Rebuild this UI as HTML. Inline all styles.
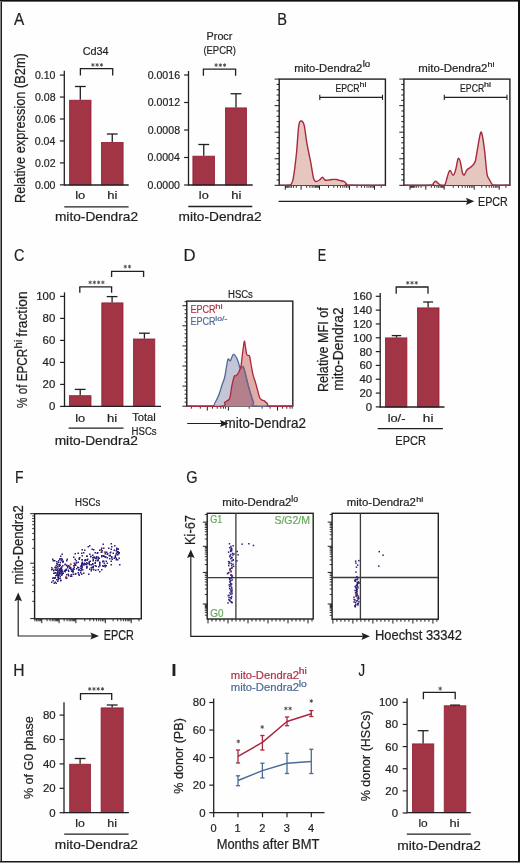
<!DOCTYPE html>
<html><head><meta charset="utf-8"><title>Figure</title>
<style>html,body{margin:0;padding:0;background:#fff;width:520px;height:863px;overflow:hidden}svg{display:block;will-change:transform}text{font-family:"Liberation Sans", sans-serif;stroke:currentColor;stroke-width:0.22px}</style>
</head><body>
<svg width="520" height="863" viewBox="0 0 520 863" font-family='"Liberation Sans", sans-serif'>
<rect width="520" height="863" fill="#fefefe"/>
<text transform="translate(13.96,24.6) scale(0.907,1)" font-size="16.9" fill="#231f20" color="#231f20">A</text>
<text transform="translate(277.19,24.5) scale(0.867,1)" font-size="16.9" fill="#231f20" color="#231f20">B</text>
<text transform="translate(13.98,260.7) scale(0.857,1)" font-size="16.9" fill="#231f20" color="#231f20">C</text>
<text transform="translate(183.52,260.6) scale(0.989,1)" font-size="16.9" fill="#231f20" color="#231f20">D</text>
<text transform="translate(317.85,260.7) scale(0.753,1)" font-size="16.9" fill="#231f20" color="#231f20">E</text>
<text transform="translate(14.95,482.6) scale(0.825,1)" font-size="16.9" fill="#231f20" color="#231f20">F</text>
<text transform="translate(186.17,482.6) scale(0.862,1)" font-size="16.9" fill="#231f20" color="#231f20">G</text>
<text transform="translate(13.21,675.8) scale(0.923,1)" font-size="16.9" fill="#231f20" color="#231f20">H</text>
<text transform="translate(170.6,675.8) scale(1.471,1)" font-size="16.9" fill="#231f20" color="#231f20">I</text>
<text transform="translate(358.5,675.8) scale(0.779,1)" font-size="16.9" fill="#231f20" color="#231f20">J</text>
<text transform="translate(34.88,79.02) scale(0.930,1)" font-size="11.4" fill="#231f20" color="#231f20">0.10</text>
<text transform="translate(34.93,100.97) scale(0.930,1)" font-size="11.4" fill="#231f20" color="#231f20">0.08</text>
<text transform="translate(34.93,122.92) scale(0.930,1)" font-size="11.4" fill="#231f20" color="#231f20">0.06</text>
<text transform="translate(34.77,144.87) scale(0.930,1)" font-size="11.4" fill="#231f20" color="#231f20">0.04</text>
<text transform="translate(35.01,166.82) scale(0.930,1)" font-size="11.4" fill="#231f20" color="#231f20">0.02</text>
<text transform="translate(34.88,188.77) scale(0.930,1)" font-size="11.4" fill="#231f20" color="#231f20">0.00</text>
<rect x="69.6" y="100.2" width="21.4" height="84.65" fill="#a23545" stroke="#921d31" stroke-width="0.8"/>
<rect x="101.4" y="142.4" width="21.7" height="42.45" fill="#a23545" stroke="#921d31" stroke-width="0.8"/>
<line x1="80.3" y1="86.5" x2="80.3" y2="99.8" stroke="#231f20" stroke-width="1.3"/>
<line x1="74.9" y1="86.5" x2="85.7" y2="86.5" stroke="#231f20" stroke-width="1.3"/>
<line x1="112.25" y1="134" x2="112.25" y2="142" stroke="#231f20" stroke-width="1.3"/>
<line x1="106.85" y1="134" x2="117.65" y2="134" stroke="#231f20" stroke-width="1.3"/>
<path d="M80.4,75.6 V68.65 H112.7 V75.6" fill="none" stroke="#231f20" stroke-width="1.3"/>
<path d="M92.9,63.1 L92.9,66.7 M91.34,64 L94.46,65.8 M91.34,65.8 L94.46,64 " stroke="#4a4a4a" stroke-width="0.9" fill="none"/>
<path d="M97.15,63.1 L97.15,66.7 M95.59,64 L98.71,65.8 M95.59,65.8 L98.71,64 " stroke="#4a4a4a" stroke-width="0.9" fill="none"/>
<path d="M101.4,63.1 L101.4,66.7 M99.84,64 L102.96,65.8 M99.84,65.8 L102.96,64 " stroke="#4a4a4a" stroke-width="0.9" fill="none"/>
<text transform="translate(82.66,55.1) scale(0.936,1)" font-size="11.6" fill="#231f20" color="#231f20">Cd34</text>
<text transform="translate(75.22,199.3) scale(1.119,1)" font-size="11.6" fill="#231f20" color="#231f20">lo</text>
<text transform="translate(107.18,199.3) scale(1.131,1)" font-size="11.6" fill="#231f20" color="#231f20">hi</text>
<line x1="64.3" y1="206.8" x2="128.6" y2="206.8" stroke="#231f20" stroke-width="1.35"/>
<text transform="translate(54.92,221.1) scale(1.009,1)" font-size="13.6" fill="#231f20" color="#231f20">mito-Dendra2</text>
<text transform="translate(24.5,203.05) rotate(-90) scale(0.920,1)" font-size="13.9" fill="#231f20" color="#231f20">Relative expression (B2m)</text>
<text transform="translate(147.63,78.92) scale(0.930,1)" font-size="11.4" fill="#231f20" color="#231f20">0.0016</text>
<text transform="translate(147.71,106.42) scale(0.930,1)" font-size="11.4" fill="#231f20" color="#231f20">0.0012</text>
<text transform="translate(147.63,133.92) scale(0.930,1)" font-size="11.4" fill="#231f20" color="#231f20">0.0008</text>
<text transform="translate(147.48,161.42) scale(0.930,1)" font-size="11.4" fill="#231f20" color="#231f20">0.0004</text>
<text transform="translate(147.58,188.92) scale(0.930,1)" font-size="11.4" fill="#231f20" color="#231f20">0.0000</text>
<rect x="192.9" y="156.15" width="21.7" height="28.85" fill="#a23545" stroke="#921d31" stroke-width="0.8"/>
<rect x="225.4" y="107.9" width="21.2" height="77.1" fill="#a23545" stroke="#921d31" stroke-width="0.8"/>
<line x1="203.75" y1="144.5" x2="203.75" y2="155.75" stroke="#231f20" stroke-width="1.3"/>
<line x1="198.35" y1="144.5" x2="209.15" y2="144.5" stroke="#231f20" stroke-width="1.3"/>
<line x1="236" y1="93.75" x2="236" y2="107.5" stroke="#231f20" stroke-width="1.3"/>
<line x1="230.6" y1="93.75" x2="241.4" y2="93.75" stroke="#231f20" stroke-width="1.3"/>
<path d="M203.4,75.8 V69.2 H235.6 V75.8" fill="none" stroke="#231f20" stroke-width="1.3"/>
<path d="M216.1,63.3 L216.1,66.9 M214.54,64.2 L217.66,66 M214.54,66 L217.66,64.2 " stroke="#4a4a4a" stroke-width="0.9" fill="none"/>
<path d="M220.35,63.3 L220.35,66.9 M218.79,64.2 L221.91,66 M218.79,66 L221.91,64.2 " stroke="#4a4a4a" stroke-width="0.9" fill="none"/>
<path d="M224.6,63.3 L224.6,66.9 M223.04,64.2 L226.16,66 M223.04,66 L226.16,64.2 " stroke="#4a4a4a" stroke-width="0.9" fill="none"/>
<text transform="translate(206.61,40.3) scale(0.981,1)" font-size="11" fill="#231f20" color="#231f20">Procr</text>
<text transform="translate(203.41,53.8) scale(0.859,1)" font-size="11" fill="#231f20" color="#231f20">(EPCR)</text>
<text transform="translate(198.84,199.4) scale(1.094,1)" font-size="11.6" fill="#231f20" color="#231f20">lo</text>
<text transform="translate(231.19,199.4) scale(1.118,1)" font-size="11.6" fill="#231f20" color="#231f20">hi</text>
<line x1="188.3" y1="206.5" x2="252.3" y2="206.5" stroke="#231f20" stroke-width="1.35"/>
<text transform="translate(178.47,221.1) scale(1.010,1)" font-size="13.6" fill="#231f20" color="#231f20">mito-Dendra2</text>
<line x1="274.6" y1="79.1" x2="279.2" y2="79.1" stroke="#231f20" stroke-width="1"/>
<line x1="276.6" y1="84.41" x2="279.2" y2="84.41" stroke="#231f20" stroke-width="1"/>
<line x1="276.6" y1="89.72" x2="279.2" y2="89.72" stroke="#231f20" stroke-width="1"/>
<line x1="276.6" y1="95.03" x2="279.2" y2="95.03" stroke="#231f20" stroke-width="1"/>
<line x1="276.6" y1="100.34" x2="279.2" y2="100.34" stroke="#231f20" stroke-width="1"/>
<line x1="274.6" y1="105.65" x2="279.2" y2="105.65" stroke="#231f20" stroke-width="1"/>
<line x1="276.6" y1="110.96" x2="279.2" y2="110.96" stroke="#231f20" stroke-width="1"/>
<line x1="276.6" y1="116.27" x2="279.2" y2="116.27" stroke="#231f20" stroke-width="1"/>
<line x1="276.6" y1="121.58" x2="279.2" y2="121.58" stroke="#231f20" stroke-width="1"/>
<line x1="276.6" y1="126.89" x2="279.2" y2="126.89" stroke="#231f20" stroke-width="1"/>
<line x1="274.6" y1="132.2" x2="279.2" y2="132.2" stroke="#231f20" stroke-width="1"/>
<line x1="276.6" y1="137.51" x2="279.2" y2="137.51" stroke="#231f20" stroke-width="1"/>
<line x1="276.6" y1="142.82" x2="279.2" y2="142.82" stroke="#231f20" stroke-width="1"/>
<line x1="276.6" y1="148.13" x2="279.2" y2="148.13" stroke="#231f20" stroke-width="1"/>
<line x1="276.6" y1="153.44" x2="279.2" y2="153.44" stroke="#231f20" stroke-width="1"/>
<line x1="274.6" y1="158.75" x2="279.2" y2="158.75" stroke="#231f20" stroke-width="1"/>
<line x1="276.6" y1="164.06" x2="279.2" y2="164.06" stroke="#231f20" stroke-width="1"/>
<line x1="276.6" y1="169.37" x2="279.2" y2="169.37" stroke="#231f20" stroke-width="1"/>
<line x1="276.6" y1="174.68" x2="279.2" y2="174.68" stroke="#231f20" stroke-width="1"/>
<line x1="276.6" y1="179.99" x2="279.2" y2="179.99" stroke="#231f20" stroke-width="1"/>
<line x1="274.6" y1="185.3" x2="279.2" y2="185.3" stroke="#231f20" stroke-width="1"/>
<line x1="285.3" y1="185.3" x2="285.3" y2="189.7" stroke="#231f20" stroke-width="1"/>
<line x1="301.1" y1="185.3" x2="301.1" y2="189.7" stroke="#231f20" stroke-width="1"/>
<line x1="319.5" y1="185.3" x2="319.5" y2="189.7" stroke="#231f20" stroke-width="1"/>
<line x1="349.5" y1="185.3" x2="349.5" y2="189.7" stroke="#231f20" stroke-width="1"/>
<line x1="374.5" y1="185.3" x2="374.5" y2="189.7" stroke="#231f20" stroke-width="1"/>
<line x1="296.34" y1="185.3" x2="296.34" y2="187.8" stroke="#231f20" stroke-width="0.9"/>
<line x1="293.56" y1="185.3" x2="293.56" y2="187.8" stroke="#231f20" stroke-width="0.9"/>
<line x1="291.59" y1="185.3" x2="291.59" y2="187.8" stroke="#231f20" stroke-width="0.9"/>
<line x1="290.06" y1="185.3" x2="290.06" y2="187.8" stroke="#231f20" stroke-width="0.9"/>
<line x1="288.81" y1="185.3" x2="288.81" y2="187.8" stroke="#231f20" stroke-width="0.9"/>
<line x1="287.75" y1="185.3" x2="287.75" y2="187.8" stroke="#231f20" stroke-width="0.9"/>
<line x1="286.83" y1="185.3" x2="286.83" y2="187.8" stroke="#231f20" stroke-width="0.9"/>
<line x1="286.02" y1="185.3" x2="286.02" y2="187.8" stroke="#231f20" stroke-width="0.9"/>
<line x1="306.64" y1="185.3" x2="306.64" y2="187.8" stroke="#231f20" stroke-width="0.9"/>
<line x1="309.88" y1="185.3" x2="309.88" y2="187.8" stroke="#231f20" stroke-width="0.9"/>
<line x1="312.18" y1="185.3" x2="312.18" y2="187.8" stroke="#231f20" stroke-width="0.9"/>
<line x1="313.96" y1="185.3" x2="313.96" y2="187.8" stroke="#231f20" stroke-width="0.9"/>
<line x1="315.42" y1="185.3" x2="315.42" y2="187.8" stroke="#231f20" stroke-width="0.9"/>
<line x1="316.65" y1="185.3" x2="316.65" y2="187.8" stroke="#231f20" stroke-width="0.9"/>
<line x1="317.72" y1="185.3" x2="317.72" y2="187.8" stroke="#231f20" stroke-width="0.9"/>
<line x1="318.66" y1="185.3" x2="318.66" y2="187.8" stroke="#231f20" stroke-width="0.9"/>
<line x1="328.53" y1="185.3" x2="328.53" y2="187.8" stroke="#231f20" stroke-width="0.9"/>
<line x1="333.81" y1="185.3" x2="333.81" y2="187.8" stroke="#231f20" stroke-width="0.9"/>
<line x1="337.56" y1="185.3" x2="337.56" y2="187.8" stroke="#231f20" stroke-width="0.9"/>
<line x1="340.47" y1="185.3" x2="340.47" y2="187.8" stroke="#231f20" stroke-width="0.9"/>
<line x1="342.84" y1="185.3" x2="342.84" y2="187.8" stroke="#231f20" stroke-width="0.9"/>
<line x1="344.85" y1="185.3" x2="344.85" y2="187.8" stroke="#231f20" stroke-width="0.9"/>
<line x1="346.59" y1="185.3" x2="346.59" y2="187.8" stroke="#231f20" stroke-width="0.9"/>
<line x1="348.13" y1="185.3" x2="348.13" y2="187.8" stroke="#231f20" stroke-width="0.9"/>
<line x1="357.03" y1="185.3" x2="357.03" y2="187.8" stroke="#231f20" stroke-width="0.9"/>
<line x1="361.43" y1="185.3" x2="361.43" y2="187.8" stroke="#231f20" stroke-width="0.9"/>
<line x1="364.55" y1="185.3" x2="364.55" y2="187.8" stroke="#231f20" stroke-width="0.9"/>
<line x1="366.97" y1="185.3" x2="366.97" y2="187.8" stroke="#231f20" stroke-width="0.9"/>
<line x1="368.95" y1="185.3" x2="368.95" y2="187.8" stroke="#231f20" stroke-width="0.9"/>
<line x1="370.63" y1="185.3" x2="370.63" y2="187.8" stroke="#231f20" stroke-width="0.9"/>
<line x1="372.08" y1="185.3" x2="372.08" y2="187.8" stroke="#231f20" stroke-width="0.9"/>
<line x1="373.36" y1="185.3" x2="373.36" y2="187.8" stroke="#231f20" stroke-width="0.9"/>
<line x1="381.2" y1="185.3" x2="381.2" y2="187.8" stroke="#231f20" stroke-width="0.9"/>
<rect x="279.2" y="79.1" width="106.2" height="106.2" fill="none" stroke="#231f20" stroke-width="1.4"/>
<path d="M279.2,185.3 C280.92,185.3 287.45,185.6 289.5,185.3 C291.55,185 290.85,184.77 291.5,183.5 C292.15,182.23 292.57,182.78 293.4,177.7 C294.23,172.62 295.6,161.72 296.5,153 C297.4,144.28 297.98,130.73 298.8,125.4 C299.62,120.07 300.5,121 301.4,121 C302.3,121 303.35,122.1 304.2,125.4 C305.05,128.7 305.73,136.2 306.5,140.8 C307.27,145.4 308.05,149.17 308.8,153 C309.55,156.83 310.23,159.68 311,163.8 C311.77,167.92 312.62,174.75 313.4,177.7 C314.18,180.65 314.68,181.12 315.7,181.5 C316.72,181.88 318.35,180.72 319.5,180 C320.65,179.28 321.7,177.2 322.6,177.2 C323.5,177.2 323.87,179.53 324.9,180 C325.93,180.47 327.65,180.08 328.8,180 C329.95,179.92 330.52,179.58 331.8,179.5 C333.08,179.42 334.97,179.28 336.5,179.5 C338.03,179.72 339.72,180.47 341,180.8 C342.28,181.13 343.28,181 344.2,181.5 C345.12,182 345.73,183.17 346.5,183.8 C347.27,184.43 342.32,185.05 348.8,185.3 C355.28,185.55 379.3,185.3 385.4,185.3 Z" fill="#e5c7bf" stroke="none"/>
<path d="M279.2,185.3 C280.92,185.3 287.45,185.6 289.5,185.3 C291.55,185 290.85,184.77 291.5,183.5 C292.15,182.23 292.57,182.78 293.4,177.7 C294.23,172.62 295.6,161.72 296.5,153 C297.4,144.28 297.98,130.73 298.8,125.4 C299.62,120.07 300.5,121 301.4,121 C302.3,121 303.35,122.1 304.2,125.4 C305.05,128.7 305.73,136.2 306.5,140.8 C307.27,145.4 308.05,149.17 308.8,153 C309.55,156.83 310.23,159.68 311,163.8 C311.77,167.92 312.62,174.75 313.4,177.7 C314.18,180.65 314.68,181.12 315.7,181.5 C316.72,181.88 318.35,180.72 319.5,180 C320.65,179.28 321.7,177.2 322.6,177.2 C323.5,177.2 323.87,179.53 324.9,180 C325.93,180.47 327.65,180.08 328.8,180 C329.95,179.92 330.52,179.58 331.8,179.5 C333.08,179.42 334.97,179.28 336.5,179.5 C338.03,179.72 339.72,180.47 341,180.8 C342.28,181.13 343.28,181 344.2,181.5 C345.12,182 345.73,183.17 346.5,183.8 C347.27,184.43 342.32,185.05 348.8,185.3 C355.28,185.55 379.3,185.3 385.4,185.3" fill="none" stroke="#a8283e" stroke-width="1.4" stroke-linejoin="round"/>
<line x1="399.3" y1="79.1" x2="403.9" y2="79.1" stroke="#231f20" stroke-width="1"/>
<line x1="401.3" y1="84.41" x2="403.9" y2="84.41" stroke="#231f20" stroke-width="1"/>
<line x1="401.3" y1="89.72" x2="403.9" y2="89.72" stroke="#231f20" stroke-width="1"/>
<line x1="401.3" y1="95.03" x2="403.9" y2="95.03" stroke="#231f20" stroke-width="1"/>
<line x1="401.3" y1="100.34" x2="403.9" y2="100.34" stroke="#231f20" stroke-width="1"/>
<line x1="399.3" y1="105.65" x2="403.9" y2="105.65" stroke="#231f20" stroke-width="1"/>
<line x1="401.3" y1="110.96" x2="403.9" y2="110.96" stroke="#231f20" stroke-width="1"/>
<line x1="401.3" y1="116.27" x2="403.9" y2="116.27" stroke="#231f20" stroke-width="1"/>
<line x1="401.3" y1="121.58" x2="403.9" y2="121.58" stroke="#231f20" stroke-width="1"/>
<line x1="401.3" y1="126.89" x2="403.9" y2="126.89" stroke="#231f20" stroke-width="1"/>
<line x1="399.3" y1="132.2" x2="403.9" y2="132.2" stroke="#231f20" stroke-width="1"/>
<line x1="401.3" y1="137.51" x2="403.9" y2="137.51" stroke="#231f20" stroke-width="1"/>
<line x1="401.3" y1="142.82" x2="403.9" y2="142.82" stroke="#231f20" stroke-width="1"/>
<line x1="401.3" y1="148.13" x2="403.9" y2="148.13" stroke="#231f20" stroke-width="1"/>
<line x1="401.3" y1="153.44" x2="403.9" y2="153.44" stroke="#231f20" stroke-width="1"/>
<line x1="399.3" y1="158.75" x2="403.9" y2="158.75" stroke="#231f20" stroke-width="1"/>
<line x1="401.3" y1="164.06" x2="403.9" y2="164.06" stroke="#231f20" stroke-width="1"/>
<line x1="401.3" y1="169.37" x2="403.9" y2="169.37" stroke="#231f20" stroke-width="1"/>
<line x1="401.3" y1="174.68" x2="403.9" y2="174.68" stroke="#231f20" stroke-width="1"/>
<line x1="401.3" y1="179.99" x2="403.9" y2="179.99" stroke="#231f20" stroke-width="1"/>
<line x1="399.3" y1="185.3" x2="403.9" y2="185.3" stroke="#231f20" stroke-width="1"/>
<line x1="410" y1="185.3" x2="410" y2="189.7" stroke="#231f20" stroke-width="1"/>
<line x1="425.8" y1="185.3" x2="425.8" y2="189.7" stroke="#231f20" stroke-width="1"/>
<line x1="444.2" y1="185.3" x2="444.2" y2="189.7" stroke="#231f20" stroke-width="1"/>
<line x1="474.2" y1="185.3" x2="474.2" y2="189.7" stroke="#231f20" stroke-width="1"/>
<line x1="499.2" y1="185.3" x2="499.2" y2="189.7" stroke="#231f20" stroke-width="1"/>
<line x1="421.04" y1="185.3" x2="421.04" y2="187.8" stroke="#231f20" stroke-width="0.9"/>
<line x1="418.26" y1="185.3" x2="418.26" y2="187.8" stroke="#231f20" stroke-width="0.9"/>
<line x1="416.29" y1="185.3" x2="416.29" y2="187.8" stroke="#231f20" stroke-width="0.9"/>
<line x1="414.76" y1="185.3" x2="414.76" y2="187.8" stroke="#231f20" stroke-width="0.9"/>
<line x1="413.51" y1="185.3" x2="413.51" y2="187.8" stroke="#231f20" stroke-width="0.9"/>
<line x1="412.45" y1="185.3" x2="412.45" y2="187.8" stroke="#231f20" stroke-width="0.9"/>
<line x1="411.53" y1="185.3" x2="411.53" y2="187.8" stroke="#231f20" stroke-width="0.9"/>
<line x1="410.72" y1="185.3" x2="410.72" y2="187.8" stroke="#231f20" stroke-width="0.9"/>
<line x1="431.34" y1="185.3" x2="431.34" y2="187.8" stroke="#231f20" stroke-width="0.9"/>
<line x1="434.58" y1="185.3" x2="434.58" y2="187.8" stroke="#231f20" stroke-width="0.9"/>
<line x1="436.88" y1="185.3" x2="436.88" y2="187.8" stroke="#231f20" stroke-width="0.9"/>
<line x1="438.66" y1="185.3" x2="438.66" y2="187.8" stroke="#231f20" stroke-width="0.9"/>
<line x1="440.12" y1="185.3" x2="440.12" y2="187.8" stroke="#231f20" stroke-width="0.9"/>
<line x1="441.35" y1="185.3" x2="441.35" y2="187.8" stroke="#231f20" stroke-width="0.9"/>
<line x1="442.42" y1="185.3" x2="442.42" y2="187.8" stroke="#231f20" stroke-width="0.9"/>
<line x1="443.36" y1="185.3" x2="443.36" y2="187.8" stroke="#231f20" stroke-width="0.9"/>
<line x1="453.23" y1="185.3" x2="453.23" y2="187.8" stroke="#231f20" stroke-width="0.9"/>
<line x1="458.51" y1="185.3" x2="458.51" y2="187.8" stroke="#231f20" stroke-width="0.9"/>
<line x1="462.26" y1="185.3" x2="462.26" y2="187.8" stroke="#231f20" stroke-width="0.9"/>
<line x1="465.17" y1="185.3" x2="465.17" y2="187.8" stroke="#231f20" stroke-width="0.9"/>
<line x1="467.54" y1="185.3" x2="467.54" y2="187.8" stroke="#231f20" stroke-width="0.9"/>
<line x1="469.55" y1="185.3" x2="469.55" y2="187.8" stroke="#231f20" stroke-width="0.9"/>
<line x1="471.29" y1="185.3" x2="471.29" y2="187.8" stroke="#231f20" stroke-width="0.9"/>
<line x1="472.83" y1="185.3" x2="472.83" y2="187.8" stroke="#231f20" stroke-width="0.9"/>
<line x1="481.73" y1="185.3" x2="481.73" y2="187.8" stroke="#231f20" stroke-width="0.9"/>
<line x1="486.13" y1="185.3" x2="486.13" y2="187.8" stroke="#231f20" stroke-width="0.9"/>
<line x1="489.25" y1="185.3" x2="489.25" y2="187.8" stroke="#231f20" stroke-width="0.9"/>
<line x1="491.67" y1="185.3" x2="491.67" y2="187.8" stroke="#231f20" stroke-width="0.9"/>
<line x1="493.65" y1="185.3" x2="493.65" y2="187.8" stroke="#231f20" stroke-width="0.9"/>
<line x1="495.33" y1="185.3" x2="495.33" y2="187.8" stroke="#231f20" stroke-width="0.9"/>
<line x1="496.78" y1="185.3" x2="496.78" y2="187.8" stroke="#231f20" stroke-width="0.9"/>
<line x1="498.06" y1="185.3" x2="498.06" y2="187.8" stroke="#231f20" stroke-width="0.9"/>
<line x1="505.9" y1="185.3" x2="505.9" y2="187.8" stroke="#231f20" stroke-width="0.9"/>
<rect x="403.9" y="79.1" width="106" height="106.2" fill="none" stroke="#231f20" stroke-width="1.4"/>
<path d="M403.9,185.3 C408.38,185.3 425.9,185.65 430.8,185.3 C435.7,184.95 432.47,183.88 433.3,183.2 C434.13,182.52 434.97,181.15 435.8,181.2 C436.63,181.25 437.47,182.82 438.3,183.5 C439.13,184.18 439.75,185 440.8,185.3 C441.85,185.6 443.58,186.43 444.6,185.3 C445.62,184.17 446.25,180.55 446.9,178.5 C447.55,176.45 447.93,174.33 448.5,173 C449.07,171.67 449.55,170.1 450.3,170.5 C451.05,170.9 452.15,175.35 453,175.4 C453.85,175.45 454.62,173.37 455.4,170.8 C456.18,168.23 457.12,162.05 457.7,160 C458.28,157.95 458.43,158.12 458.9,158.5 C459.37,158.88 459.93,160 460.5,162.3 C461.07,164.6 461.68,170.18 462.3,172.3 C462.92,174.42 463.43,175.38 464.2,175 C464.97,174.62 465.93,171.22 466.9,170 C467.87,168.78 468.98,168.53 470,167.7 C471.02,166.87 472.1,166.15 473,165 C473.9,163.85 474.62,163.68 475.4,160.8 C476.18,157.92 476.85,152.33 477.7,147.7 C478.55,143.07 479.73,135.05 480.5,133 C481.27,130.95 481.62,132.43 482.3,135.4 C482.98,138.37 483.82,144.4 484.6,150.8 C485.38,157.2 486.23,169.07 487,173.8 C487.77,178.53 488.32,177.4 489.2,179.2 C490.08,181 491.53,183.58 492.3,184.6 C493.07,185.62 490.87,185.18 493.8,185.3 C496.73,185.42 507.22,185.3 509.9,185.3 Z" fill="#e5c7bf" stroke="none"/>
<path d="M403.9,185.3 C408.38,185.3 425.9,185.65 430.8,185.3 C435.7,184.95 432.47,183.88 433.3,183.2 C434.13,182.52 434.97,181.15 435.8,181.2 C436.63,181.25 437.47,182.82 438.3,183.5 C439.13,184.18 439.75,185 440.8,185.3 C441.85,185.6 443.58,186.43 444.6,185.3 C445.62,184.17 446.25,180.55 446.9,178.5 C447.55,176.45 447.93,174.33 448.5,173 C449.07,171.67 449.55,170.1 450.3,170.5 C451.05,170.9 452.15,175.35 453,175.4 C453.85,175.45 454.62,173.37 455.4,170.8 C456.18,168.23 457.12,162.05 457.7,160 C458.28,157.95 458.43,158.12 458.9,158.5 C459.37,158.88 459.93,160 460.5,162.3 C461.07,164.6 461.68,170.18 462.3,172.3 C462.92,174.42 463.43,175.38 464.2,175 C464.97,174.62 465.93,171.22 466.9,170 C467.87,168.78 468.98,168.53 470,167.7 C471.02,166.87 472.1,166.15 473,165 C473.9,163.85 474.62,163.68 475.4,160.8 C476.18,157.92 476.85,152.33 477.7,147.7 C478.55,143.07 479.73,135.05 480.5,133 C481.27,130.95 481.62,132.43 482.3,135.4 C482.98,138.37 483.82,144.4 484.6,150.8 C485.38,157.2 486.23,169.07 487,173.8 C487.77,178.53 488.32,177.4 489.2,179.2 C490.08,181 491.53,183.58 492.3,184.6 C493.07,185.62 490.87,185.18 493.8,185.3 C496.73,185.42 507.22,185.3 509.9,185.3" fill="none" stroke="#a8283e" stroke-width="1.4" stroke-linejoin="round"/>
<text transform="translate(294.14,71.9) scale(1.021,1)" font-size="11" fill="#231f20" color="#231f20">mito-Dendra2</text>
<text transform="translate(362.65,67.3) scale(1.115,1)" font-size="8.7" fill="#231f20" color="#231f20">lo</text>
<text transform="translate(418.33,71.9) scale(1.038,1)" font-size="11" fill="#231f20" color="#231f20">mito-Dendra2</text>
<text transform="translate(487.48,66.5) scale(1.142,1)" font-size="7.8" fill="#231f20" color="#231f20">hi</text>
<line x1="319.8" y1="97.4" x2="382.5" y2="97.4" stroke="#231f20" stroke-width="1.2"/>
<line x1="319.8" y1="94.8" x2="319.8" y2="100" stroke="#231f20" stroke-width="1.1"/>
<line x1="382.5" y1="94.8" x2="382.5" y2="100" stroke="#231f20" stroke-width="1.1"/>
<text transform="translate(335.48,92) scale(0.835,1)" font-size="10.4" fill="#231f20" color="#231f20">EPCR</text>
<text transform="translate(359.48,87.1) scale(1.172,1)" font-size="7.6" fill="#231f20" color="#231f20">hi</text>
<line x1="444.3" y1="97.4" x2="507" y2="97.4" stroke="#231f20" stroke-width="1.2"/>
<line x1="444.3" y1="94.8" x2="444.3" y2="100" stroke="#231f20" stroke-width="1.1"/>
<line x1="507" y1="94.8" x2="507" y2="100" stroke="#231f20" stroke-width="1.1"/>
<text transform="translate(460.08,92) scale(0.835,1)" font-size="10.4" fill="#231f20" color="#231f20">EPCR</text>
<text transform="translate(484.08,87.1) scale(1.172,1)" font-size="7.6" fill="#231f20" color="#231f20">hi</text>
<line x1="278.6" y1="201.3" x2="467.9" y2="201.3" stroke="#231f20" stroke-width="1.2"/>
<path d="M474.3,201.3 L465.9,204.9 L467.4,201.3 L465.9,197.7 Z" fill="#231f20"/>
<text transform="translate(478.02,206.3) scale(0.789,1)" font-size="13.6" fill="#231f20" color="#231f20">EPCR</text>
<text transform="translate(36.22,300.32) scale(1.000,1)" font-size="11.4" fill="#231f20" color="#231f20">100</text>
<text transform="translate(42.57,322.32) scale(1.000,1)" font-size="11.4" fill="#231f20" color="#231f20">80</text>
<text transform="translate(42.57,344.32) scale(1.000,1)" font-size="11.4" fill="#231f20" color="#231f20">60</text>
<text transform="translate(42.57,366.32) scale(1.000,1)" font-size="11.4" fill="#231f20" color="#231f20">40</text>
<text transform="translate(42.57,388.32) scale(1.000,1)" font-size="11.4" fill="#231f20" color="#231f20">20</text>
<text transform="translate(48.9,410.32) scale(1.000,1)" font-size="11.4" fill="#231f20" color="#231f20">0</text>
<rect x="69.4" y="395.7" width="21.6" height="10.7" fill="#a23545" stroke="#921d31" stroke-width="0.8"/>
<rect x="101.8" y="302.9" width="21.2" height="103.5" fill="#a23545" stroke="#921d31" stroke-width="0.8"/>
<rect x="133.5" y="339" width="21.3" height="67.4" fill="#a23545" stroke="#921d31" stroke-width="0.8"/>
<line x1="80.2" y1="389.4" x2="80.2" y2="395.3" stroke="#231f20" stroke-width="1.3"/>
<line x1="74.8" y1="389.4" x2="85.6" y2="389.4" stroke="#231f20" stroke-width="1.3"/>
<line x1="112.1" y1="296.6" x2="112.1" y2="302.5" stroke="#231f20" stroke-width="1.3"/>
<line x1="106.7" y1="296.6" x2="117.5" y2="296.6" stroke="#231f20" stroke-width="1.3"/>
<line x1="144.4" y1="333.2" x2="144.4" y2="338.6" stroke="#231f20" stroke-width="1.3"/>
<line x1="139" y1="333.2" x2="149.8" y2="333.2" stroke="#231f20" stroke-width="1.3"/>
<path d="M79.8,292.8 V286.9 H111.6 V292.8" fill="none" stroke="#231f20" stroke-width="1.3"/>
<path d="M90.12,280.6 L90.12,284.2 M88.57,281.5 L91.68,283.3 M88.57,283.3 L91.68,281.5 " stroke="#4a4a4a" stroke-width="0.9" fill="none"/>
<path d="M94.38,280.6 L94.38,284.2 M92.82,281.5 L95.93,283.3 M92.82,283.3 L95.93,281.5 " stroke="#4a4a4a" stroke-width="0.9" fill="none"/>
<path d="M98.62,280.6 L98.62,284.2 M97.07,281.5 L100.18,283.3 M97.07,283.3 L100.18,281.5 " stroke="#4a4a4a" stroke-width="0.9" fill="none"/>
<path d="M102.88,280.6 L102.88,284.2 M101.32,281.5 L104.43,283.3 M101.32,283.3 L104.43,281.5 " stroke="#4a4a4a" stroke-width="0.9" fill="none"/>
<path d="M111.6,276.9 V271.3 H143.6 V276.9" fill="none" stroke="#231f20" stroke-width="1.3"/>
<path d="M125.28,264.8 L125.28,268.4 M123.72,265.7 L126.83,267.5 M123.72,267.5 L126.83,265.7 " stroke="#4a4a4a" stroke-width="0.9" fill="none"/>
<path d="M129.53,264.8 L129.53,268.4 M127.97,265.7 L131.08,267.5 M127.97,267.5 L131.08,265.7 " stroke="#4a4a4a" stroke-width="0.9" fill="none"/>
<text transform="translate(75.23,421.5) scale(1.107,1)" font-size="11.6" fill="#231f20" color="#231f20">lo</text>
<text transform="translate(106.98,421.5) scale(1.131,1)" font-size="11.6" fill="#231f20" color="#231f20">hi</text>
<text transform="translate(132.15,421.4) scale(0.968,1)" font-size="11.6" fill="#231f20" color="#231f20">Total</text>
<text transform="translate(131.61,434.8) scale(0.848,1)" font-size="11.3" fill="#231f20" color="#231f20">HSCs</text>
<line x1="68.6" y1="428.1" x2="123.5" y2="428.1" stroke="#231f20" stroke-width="1.35"/>
<text transform="translate(54.67,444.9) scale(1.011,1)" font-size="13.6" fill="#231f20" color="#231f20">mito-Dendra2</text>
<text transform="translate(26.8,407.91) rotate(-90) scale(0.825,1)" font-size="14.2" fill="#231f20" color="#231f20">% of EPCR</text>
<text transform="translate(22.2,348.6) rotate(-90) scale(1.076,1)" font-size="10.6" fill="#231f20" color="#231f20">hi</text>
<text transform="translate(26.8,336.71) rotate(-90) scale(0.973,1)" font-size="14.2" fill="#231f20" color="#231f20">fraction</text>
<line x1="182.4" y1="406.2" x2="186.8" y2="406.2" stroke="#231f20" stroke-width="1"/>
<line x1="184.6" y1="402.18" x2="186.8" y2="402.18" stroke="#231f20" stroke-width="1"/>
<line x1="184.6" y1="398.16" x2="186.8" y2="398.16" stroke="#231f20" stroke-width="1"/>
<line x1="184.6" y1="394.14" x2="186.8" y2="394.14" stroke="#231f20" stroke-width="1"/>
<line x1="184.6" y1="390.12" x2="186.8" y2="390.12" stroke="#231f20" stroke-width="1"/>
<line x1="182.4" y1="386.1" x2="186.8" y2="386.1" stroke="#231f20" stroke-width="1"/>
<line x1="184.6" y1="382.08" x2="186.8" y2="382.08" stroke="#231f20" stroke-width="1"/>
<line x1="184.6" y1="378.06" x2="186.8" y2="378.06" stroke="#231f20" stroke-width="1"/>
<line x1="184.6" y1="374.04" x2="186.8" y2="374.04" stroke="#231f20" stroke-width="1"/>
<line x1="184.6" y1="370.02" x2="186.8" y2="370.02" stroke="#231f20" stroke-width="1"/>
<line x1="182.4" y1="366" x2="186.8" y2="366" stroke="#231f20" stroke-width="1"/>
<line x1="184.6" y1="361.98" x2="186.8" y2="361.98" stroke="#231f20" stroke-width="1"/>
<line x1="184.6" y1="357.96" x2="186.8" y2="357.96" stroke="#231f20" stroke-width="1"/>
<line x1="184.6" y1="353.94" x2="186.8" y2="353.94" stroke="#231f20" stroke-width="1"/>
<line x1="184.6" y1="349.92" x2="186.8" y2="349.92" stroke="#231f20" stroke-width="1"/>
<line x1="182.4" y1="345.9" x2="186.8" y2="345.9" stroke="#231f20" stroke-width="1"/>
<line x1="184.6" y1="341.88" x2="186.8" y2="341.88" stroke="#231f20" stroke-width="1"/>
<line x1="184.6" y1="337.86" x2="186.8" y2="337.86" stroke="#231f20" stroke-width="1"/>
<line x1="184.6" y1="333.84" x2="186.8" y2="333.84" stroke="#231f20" stroke-width="1"/>
<line x1="184.6" y1="329.82" x2="186.8" y2="329.82" stroke="#231f20" stroke-width="1"/>
<line x1="182.4" y1="325.8" x2="186.8" y2="325.8" stroke="#231f20" stroke-width="1"/>
<line x1="184.6" y1="321.78" x2="186.8" y2="321.78" stroke="#231f20" stroke-width="1"/>
<line x1="184.6" y1="317.76" x2="186.8" y2="317.76" stroke="#231f20" stroke-width="1"/>
<line x1="184.6" y1="313.74" x2="186.8" y2="313.74" stroke="#231f20" stroke-width="1"/>
<line x1="184.6" y1="309.72" x2="186.8" y2="309.72" stroke="#231f20" stroke-width="1"/>
<line x1="182.4" y1="305.7" x2="186.8" y2="305.7" stroke="#231f20" stroke-width="1"/>
<line x1="184.6" y1="301.68" x2="186.8" y2="301.68" stroke="#231f20" stroke-width="1"/>
<line x1="207.3" y1="406.2" x2="207.3" y2="410.6" stroke="#231f20" stroke-width="1"/>
<line x1="228.4" y1="406.2" x2="228.4" y2="410.6" stroke="#231f20" stroke-width="1"/>
<line x1="277.5" y1="406.2" x2="277.5" y2="410.6" stroke="#231f20" stroke-width="1"/>
<line x1="191.4" y1="406.2" x2="191.4" y2="408.7" stroke="#231f20" stroke-width="0.9"/>
<line x1="200.3" y1="406.2" x2="200.3" y2="408.7" stroke="#231f20" stroke-width="0.9"/>
<line x1="212.5" y1="406.2" x2="212.5" y2="408.7" stroke="#231f20" stroke-width="0.9"/>
<line x1="217.2" y1="406.2" x2="217.2" y2="408.7" stroke="#231f20" stroke-width="0.9"/>
<line x1="220.8" y1="406.2" x2="220.8" y2="408.7" stroke="#231f20" stroke-width="0.9"/>
<line x1="223.4" y1="406.2" x2="223.4" y2="408.7" stroke="#231f20" stroke-width="0.9"/>
<line x1="225.5" y1="406.2" x2="225.5" y2="408.7" stroke="#231f20" stroke-width="0.9"/>
<line x1="249.2" y1="406.2" x2="249.2" y2="408.7" stroke="#231f20" stroke-width="0.9"/>
<line x1="262.1" y1="406.2" x2="262.1" y2="408.7" stroke="#231f20" stroke-width="0.9"/>
<line x1="270.1" y1="406.2" x2="270.1" y2="408.7" stroke="#231f20" stroke-width="0.9"/>
<line x1="282.5" y1="406.2" x2="282.5" y2="408.7" stroke="#231f20" stroke-width="0.9"/>
<line x1="286.8" y1="406.2" x2="286.8" y2="408.7" stroke="#231f20" stroke-width="0.9"/>
<line x1="290" y1="406.2" x2="290" y2="408.7" stroke="#231f20" stroke-width="0.9"/>
<line x1="292.2" y1="406.2" x2="292.2" y2="408.7" stroke="#231f20" stroke-width="0.9"/>
<rect x="186.8" y="301.1" width="106" height="105.1" fill="none" stroke="#231f20" stroke-width="1.4"/>
<defs><clipPath id="cb"><path d="M186.8,406.2 C190.88,406.2 206.63,406.73 211.3,406.2 C215.97,405.67 213.55,404.87 214.8,403 C216.05,401.13 217.6,398 218.8,395 C220,392 221.05,387.83 222,385 C222.95,382.17 223.78,380.83 224.5,378 C225.22,375.17 225.72,371.13 226.3,368 C226.88,364.87 227.32,360.42 228,359.2 C228.68,357.98 229.52,361.5 230.4,360.7 C231.28,359.9 232.27,354.88 233.3,354.4 C234.33,353.92 235.72,356.37 236.6,357.8 C237.48,359.23 238.03,361.32 238.6,363 C239.17,364.68 239.28,367.33 240,367.9 C240.72,368.47 242.1,365.77 242.9,366.4 C243.7,367.03 244,368.88 244.8,371.7 C245.6,374.52 246.73,379.62 247.7,383.3 C248.67,386.98 249.63,390.6 250.6,393.8 C251.57,397 252.7,400.43 253.5,402.5 C254.3,404.57 248.85,405.58 255.4,406.2 C261.95,406.82 286.57,406.2 292.8,406.2 Z"/></clipPath><clipPath id="cr"><path d="M186.8,406.2 C192.62,406.2 215.4,406.82 221.7,406.2 C228,405.58 223.63,403.43 224.6,402.5 C225.57,401.57 226.62,401.4 227.5,400.6 C228.38,399.8 229.18,400.1 229.9,397.7 C230.62,395.3 231.08,389.73 231.8,386.2 C232.52,382.67 233.47,378.27 234.2,376.5 C234.93,374.73 235.4,376.4 236.2,375.6 C237,374.8 238.2,373.3 239,371.7 C239.8,370.1 240.43,368.88 241,366 C241.57,363.12 241.85,358.5 242.4,354.4 C242.95,350.3 243.82,342.83 244.3,341.4 C244.78,339.97 244.9,343.63 245.3,345.8 C245.7,347.97 246.22,352.8 246.7,354.4 C247.18,356 247.72,355.08 248.2,355.4 C248.68,355.72 249.13,354.87 249.6,356.3 C250.07,357.73 250.43,360.95 251,364 C251.57,367.05 252.27,371.55 253,374.6 C253.73,377.65 254.6,379.57 255.4,382.3 C256.2,385.03 257.08,388.43 257.8,391 C258.52,393.57 258.98,396.18 259.7,397.7 C260.42,399.22 261.38,399.62 262.1,400.1 C262.82,400.58 263.1,400 264,400.6 C264.9,401.2 266.57,402.77 267.5,403.7 C268.43,404.63 265.38,405.78 269.6,406.2 C273.82,406.62 288.93,406.2 292.8,406.2 Z"/></clipPath></defs>
<path d="M186.8,406.2 C190.88,406.2 206.63,406.73 211.3,406.2 C215.97,405.67 213.55,404.87 214.8,403 C216.05,401.13 217.6,398 218.8,395 C220,392 221.05,387.83 222,385 C222.95,382.17 223.78,380.83 224.5,378 C225.22,375.17 225.72,371.13 226.3,368 C226.88,364.87 227.32,360.42 228,359.2 C228.68,357.98 229.52,361.5 230.4,360.7 C231.28,359.9 232.27,354.88 233.3,354.4 C234.33,353.92 235.72,356.37 236.6,357.8 C237.48,359.23 238.03,361.32 238.6,363 C239.17,364.68 239.28,367.33 240,367.9 C240.72,368.47 242.1,365.77 242.9,366.4 C243.7,367.03 244,368.88 244.8,371.7 C245.6,374.52 246.73,379.62 247.7,383.3 C248.67,386.98 249.63,390.6 250.6,393.8 C251.57,397 252.7,400.43 253.5,402.5 C254.3,404.57 248.85,405.58 255.4,406.2 C261.95,406.82 286.57,406.2 292.8,406.2 Z" fill="#c4c5d7"/>
<path d="M186.8,406.2 C192.62,406.2 215.4,406.82 221.7,406.2 C228,405.58 223.63,403.43 224.6,402.5 C225.57,401.57 226.62,401.4 227.5,400.6 C228.38,399.8 229.18,400.1 229.9,397.7 C230.62,395.3 231.08,389.73 231.8,386.2 C232.52,382.67 233.47,378.27 234.2,376.5 C234.93,374.73 235.4,376.4 236.2,375.6 C237,374.8 238.2,373.3 239,371.7 C239.8,370.1 240.43,368.88 241,366 C241.57,363.12 241.85,358.5 242.4,354.4 C242.95,350.3 243.82,342.83 244.3,341.4 C244.78,339.97 244.9,343.63 245.3,345.8 C245.7,347.97 246.22,352.8 246.7,354.4 C247.18,356 247.72,355.08 248.2,355.4 C248.68,355.72 249.13,354.87 249.6,356.3 C250.07,357.73 250.43,360.95 251,364 C251.57,367.05 252.27,371.55 253,374.6 C253.73,377.65 254.6,379.57 255.4,382.3 C256.2,385.03 257.08,388.43 257.8,391 C258.52,393.57 258.98,396.18 259.7,397.7 C260.42,399.22 261.38,399.62 262.1,400.1 C262.82,400.58 263.1,400 264,400.6 C264.9,401.2 266.57,402.77 267.5,403.7 C268.43,404.63 265.38,405.78 269.6,406.2 C273.82,406.62 288.93,406.2 292.8,406.2 Z" fill="#e2ada7"/>
<path d="M186.8,406.2 C192.62,406.2 215.4,406.82 221.7,406.2 C228,405.58 223.63,403.43 224.6,402.5 C225.57,401.57 226.62,401.4 227.5,400.6 C228.38,399.8 229.18,400.1 229.9,397.7 C230.62,395.3 231.08,389.73 231.8,386.2 C232.52,382.67 233.47,378.27 234.2,376.5 C234.93,374.73 235.4,376.4 236.2,375.6 C237,374.8 238.2,373.3 239,371.7 C239.8,370.1 240.43,368.88 241,366 C241.57,363.12 241.85,358.5 242.4,354.4 C242.95,350.3 243.82,342.83 244.3,341.4 C244.78,339.97 244.9,343.63 245.3,345.8 C245.7,347.97 246.22,352.8 246.7,354.4 C247.18,356 247.72,355.08 248.2,355.4 C248.68,355.72 249.13,354.87 249.6,356.3 C250.07,357.73 250.43,360.95 251,364 C251.57,367.05 252.27,371.55 253,374.6 C253.73,377.65 254.6,379.57 255.4,382.3 C256.2,385.03 257.08,388.43 257.8,391 C258.52,393.57 258.98,396.18 259.7,397.7 C260.42,399.22 261.38,399.62 262.1,400.1 C262.82,400.58 263.1,400 264,400.6 C264.9,401.2 266.57,402.77 267.5,403.7 C268.43,404.63 265.38,405.78 269.6,406.2 C273.82,406.62 288.93,406.2 292.8,406.2 Z" fill="#b3808c" clip-path="url(#cb)"/>
<path d="M186.8,406.2 C190.88,406.2 206.63,406.73 211.3,406.2 C215.97,405.67 213.55,404.87 214.8,403 C216.05,401.13 217.6,398 218.8,395 C220,392 221.05,387.83 222,385 C222.95,382.17 223.78,380.83 224.5,378 C225.22,375.17 225.72,371.13 226.3,368 C226.88,364.87 227.32,360.42 228,359.2 C228.68,357.98 229.52,361.5 230.4,360.7 C231.28,359.9 232.27,354.88 233.3,354.4 C234.33,353.92 235.72,356.37 236.6,357.8 C237.48,359.23 238.03,361.32 238.6,363 C239.17,364.68 239.28,367.33 240,367.9 C240.72,368.47 242.1,365.77 242.9,366.4 C243.7,367.03 244,368.88 244.8,371.7 C245.6,374.52 246.73,379.62 247.7,383.3 C248.67,386.98 249.63,390.6 250.6,393.8 C251.57,397 252.7,400.43 253.5,402.5 C254.3,404.57 248.85,405.58 255.4,406.2 C261.95,406.82 286.57,406.2 292.8,406.2" fill="none" stroke="#4d6a95" stroke-width="1.3" stroke-linejoin="round"/>
<path d="M186.8,406.2 C190.88,406.2 206.63,406.73 211.3,406.2 C215.97,405.67 213.55,404.87 214.8,403 C216.05,401.13 217.6,398 218.8,395 C220,392 221.05,387.83 222,385 C222.95,382.17 223.78,380.83 224.5,378 C225.22,375.17 225.72,371.13 226.3,368 C226.88,364.87 227.32,360.42 228,359.2 C228.68,357.98 229.52,361.5 230.4,360.7 C231.28,359.9 232.27,354.88 233.3,354.4 C234.33,353.92 235.72,356.37 236.6,357.8 C237.48,359.23 238.03,361.32 238.6,363 C239.17,364.68 239.28,367.33 240,367.9 C240.72,368.47 242.1,365.77 242.9,366.4 C243.7,367.03 244,368.88 244.8,371.7 C245.6,374.52 246.73,379.62 247.7,383.3 C248.67,386.98 249.63,390.6 250.6,393.8 C251.57,397 252.7,400.43 253.5,402.5 C254.3,404.57 248.85,405.58 255.4,406.2 C261.95,406.82 286.57,406.2 292.8,406.2" fill="none" stroke="#76668f" stroke-width="1.4" stroke-linejoin="round" clip-path="url(#cr)"/>
<path d="M186.8,406.2 C192.62,406.2 215.4,406.82 221.7,406.2 C228,405.58 223.63,403.43 224.6,402.5 C225.57,401.57 226.62,401.4 227.5,400.6 C228.38,399.8 229.18,400.1 229.9,397.7 C230.62,395.3 231.08,389.73 231.8,386.2 C232.52,382.67 233.47,378.27 234.2,376.5 C234.93,374.73 235.4,376.4 236.2,375.6 C237,374.8 238.2,373.3 239,371.7 C239.8,370.1 240.43,368.88 241,366 C241.57,363.12 241.85,358.5 242.4,354.4 C242.95,350.3 243.82,342.83 244.3,341.4 C244.78,339.97 244.9,343.63 245.3,345.8 C245.7,347.97 246.22,352.8 246.7,354.4 C247.18,356 247.72,355.08 248.2,355.4 C248.68,355.72 249.13,354.87 249.6,356.3 C250.07,357.73 250.43,360.95 251,364 C251.57,367.05 252.27,371.55 253,374.6 C253.73,377.65 254.6,379.57 255.4,382.3 C256.2,385.03 257.08,388.43 257.8,391 C258.52,393.57 258.98,396.18 259.7,397.7 C260.42,399.22 261.38,399.62 262.1,400.1 C262.82,400.58 263.1,400 264,400.6 C264.9,401.2 266.57,402.77 267.5,403.7 C268.43,404.63 265.38,405.78 269.6,406.2 C273.82,406.62 288.93,406.2 292.8,406.2" fill="none" stroke="#a8283e" stroke-width="1.3" stroke-linejoin="round"/>
<text transform="translate(228.01,297.9) scale(0.867,1)" font-size="11" fill="#231f20" color="#231f20">HSCs</text>
<text transform="translate(190.46,313.3) scale(0.821,1)" font-size="11" fill="#ad3348" color="#ad3348">EPCR</text>
<text transform="translate(215.13,308.8) scale(1.254,1)" font-size="7.6" fill="#ad3348" color="#ad3348">hi</text>
<text transform="translate(190.46,324.8) scale(0.821,1)" font-size="11" fill="#4d6a95" color="#4d6a95">EPCR</text>
<text transform="translate(215.21,320.8) scale(1.086,1)" font-size="8" fill="#4d6a95" color="#4d6a95">lo/-</text>
<text transform="translate(224.49,427.8) scale(0.975,1)" font-size="13.8" fill="#231f20" color="#231f20">mito-Dendra2</text>
<line x1="187.2" y1="423.5" x2="222" y2="423.5" stroke="#231f20" stroke-width="1.2"/>
<path d="M228.4,423.5 L220,427.1 L221.5,423.5 L220,419.9 Z" fill="#231f20"/>
<text transform="translate(353.12,300.22) scale(1.000,1)" font-size="11.4" fill="#231f20" color="#231f20">160</text>
<text transform="translate(353.12,314.04) scale(1.000,1)" font-size="11.4" fill="#231f20" color="#231f20">140</text>
<text transform="translate(353.12,327.87) scale(1.000,1)" font-size="11.4" fill="#231f20" color="#231f20">120</text>
<text transform="translate(353.12,341.69) scale(1.000,1)" font-size="11.4" fill="#231f20" color="#231f20">100</text>
<text transform="translate(359.47,355.52) scale(1.000,1)" font-size="11.4" fill="#231f20" color="#231f20">80</text>
<text transform="translate(359.47,369.34) scale(1.000,1)" font-size="11.4" fill="#231f20" color="#231f20">60</text>
<text transform="translate(359.47,383.17) scale(1.000,1)" font-size="11.4" fill="#231f20" color="#231f20">40</text>
<text transform="translate(359.47,396.99) scale(1.000,1)" font-size="11.4" fill="#231f20" color="#231f20">20</text>
<text transform="translate(365.8,410.82) scale(1.000,1)" font-size="11.4" fill="#231f20" color="#231f20">0</text>
<rect x="385.4" y="337.9" width="21.5" height="69.1" fill="#a23545" stroke="#921d31" stroke-width="0.8"/>
<rect x="417.4" y="307.9" width="21.6" height="99.1" fill="#a23545" stroke="#921d31" stroke-width="0.8"/>
<line x1="396.5" y1="335.6" x2="396.5" y2="337.5" stroke="#231f20" stroke-width="1.3"/>
<line x1="391.75" y1="335.6" x2="401.25" y2="335.6" stroke="#231f20" stroke-width="1.3"/>
<line x1="428.1" y1="302" x2="428.1" y2="307.5" stroke="#231f20" stroke-width="1.3"/>
<line x1="423.15" y1="302" x2="433.05" y2="302" stroke="#231f20" stroke-width="1.3"/>
<path d="M396.2,293.8 V287 H428 V293.8" fill="none" stroke="#231f20" stroke-width="1.3"/>
<path d="M407.75,281 L407.75,284.6 M406.19,281.9 L409.31,283.7 M406.19,283.7 L409.31,281.9 " stroke="#4a4a4a" stroke-width="0.9" fill="none"/>
<path d="M412,281 L412,284.6 M410.44,281.9 L413.56,283.7 M410.44,283.7 L413.56,281.9 " stroke="#4a4a4a" stroke-width="0.9" fill="none"/>
<path d="M416.25,281 L416.25,284.6 M414.69,281.9 L417.81,283.7 M414.69,283.7 L417.81,281.9 " stroke="#4a4a4a" stroke-width="0.9" fill="none"/>
<text transform="translate(387.63,421.5) scale(1.107,1)" font-size="11.6" fill="#231f20" color="#231f20">lo/-</text>
<text transform="translate(422.85,421.5) scale(1.172,1)" font-size="11.6" fill="#231f20" color="#231f20">hi</text>
<line x1="377.7" y1="428.6" x2="442.9" y2="428.6" stroke="#231f20" stroke-width="1.35"/>
<text transform="translate(395.29,444.6) scale(0.829,1)" font-size="13.3" fill="#231f20" color="#231f20">EPCR</text>
<text transform="translate(327.7,392.04) rotate(-90) scale(0.901,1)" font-size="14" fill="#231f20" color="#231f20">Relative MFI of</text>
<text transform="translate(343.1,390.83) rotate(-90) scale(0.984,1)" font-size="14" fill="#231f20" color="#231f20">mito-Dendra2</text>
<line x1="34.92" y1="618.8" x2="34.92" y2="621.3" stroke="#231f20" stroke-width="0.9"/>
<line x1="36.59" y1="618.8" x2="36.59" y2="621.3" stroke="#231f20" stroke-width="0.9"/>
<line x1="37.96" y1="618.8" x2="37.96" y2="621.3" stroke="#231f20" stroke-width="0.9"/>
<line x1="39.12" y1="618.8" x2="39.12" y2="621.3" stroke="#231f20" stroke-width="0.9"/>
<line x1="40.12" y1="618.8" x2="40.12" y2="621.3" stroke="#231f20" stroke-width="0.9"/>
<line x1="41.01" y1="618.8" x2="41.01" y2="621.3" stroke="#231f20" stroke-width="0.9"/>
<line x1="41.8" y1="618.8" x2="41.8" y2="623.2" stroke="#231f20" stroke-width="1"/>
<line x1="47.01" y1="618.8" x2="47.01" y2="621.3" stroke="#231f20" stroke-width="0.9"/>
<line x1="50.05" y1="618.8" x2="50.05" y2="621.3" stroke="#231f20" stroke-width="0.9"/>
<line x1="52.22" y1="618.8" x2="52.22" y2="621.3" stroke="#231f20" stroke-width="0.9"/>
<line x1="53.89" y1="618.8" x2="53.89" y2="621.3" stroke="#231f20" stroke-width="0.9"/>
<line x1="55.26" y1="618.8" x2="55.26" y2="621.3" stroke="#231f20" stroke-width="0.9"/>
<line x1="56.42" y1="618.8" x2="56.42" y2="621.3" stroke="#231f20" stroke-width="0.9"/>
<line x1="57.42" y1="618.8" x2="57.42" y2="621.3" stroke="#231f20" stroke-width="0.9"/>
<line x1="58.31" y1="618.8" x2="58.31" y2="621.3" stroke="#231f20" stroke-width="0.9"/>
<line x1="59.1" y1="618.8" x2="59.1" y2="623.2" stroke="#231f20" stroke-width="1"/>
<line x1="64.16" y1="618.8" x2="64.16" y2="621.3" stroke="#231f20" stroke-width="0.9"/>
<line x1="67.12" y1="618.8" x2="67.12" y2="621.3" stroke="#231f20" stroke-width="0.9"/>
<line x1="69.21" y1="618.8" x2="69.21" y2="621.3" stroke="#231f20" stroke-width="0.9"/>
<line x1="70.84" y1="618.8" x2="70.84" y2="621.3" stroke="#231f20" stroke-width="0.9"/>
<line x1="72.17" y1="618.8" x2="72.17" y2="621.3" stroke="#231f20" stroke-width="0.9"/>
<line x1="73.3" y1="618.8" x2="73.3" y2="621.3" stroke="#231f20" stroke-width="0.9"/>
<line x1="74.27" y1="618.8" x2="74.27" y2="621.3" stroke="#231f20" stroke-width="0.9"/>
<line x1="75.13" y1="618.8" x2="75.13" y2="621.3" stroke="#231f20" stroke-width="0.9"/>
<line x1="75.9" y1="618.8" x2="75.9" y2="623.2" stroke="#231f20" stroke-width="1"/>
<line x1="84.75" y1="618.8" x2="84.75" y2="621.3" stroke="#231f20" stroke-width="0.9"/>
<line x1="89.93" y1="618.8" x2="89.93" y2="621.3" stroke="#231f20" stroke-width="0.9"/>
<line x1="93.6" y1="618.8" x2="93.6" y2="621.3" stroke="#231f20" stroke-width="0.9"/>
<line x1="96.45" y1="618.8" x2="96.45" y2="621.3" stroke="#231f20" stroke-width="0.9"/>
<line x1="98.78" y1="618.8" x2="98.78" y2="621.3" stroke="#231f20" stroke-width="0.9"/>
<line x1="100.75" y1="618.8" x2="100.75" y2="621.3" stroke="#231f20" stroke-width="0.9"/>
<line x1="102.45" y1="618.8" x2="102.45" y2="621.3" stroke="#231f20" stroke-width="0.9"/>
<line x1="103.95" y1="618.8" x2="103.95" y2="621.3" stroke="#231f20" stroke-width="0.9"/>
<line x1="105.3" y1="618.8" x2="105.3" y2="623.2" stroke="#231f20" stroke-width="1"/>
<line x1="113.1" y1="618.8" x2="113.1" y2="621.3" stroke="#231f20" stroke-width="0.9"/>
<line x1="117.66" y1="618.8" x2="117.66" y2="621.3" stroke="#231f20" stroke-width="0.9"/>
<line x1="120.89" y1="618.8" x2="120.89" y2="621.3" stroke="#231f20" stroke-width="0.9"/>
<line x1="123.4" y1="618.8" x2="123.4" y2="621.3" stroke="#231f20" stroke-width="0.9"/>
<line x1="125.45" y1="618.8" x2="125.45" y2="621.3" stroke="#231f20" stroke-width="0.9"/>
<line x1="127.19" y1="618.8" x2="127.19" y2="621.3" stroke="#231f20" stroke-width="0.9"/>
<line x1="128.69" y1="618.8" x2="128.69" y2="621.3" stroke="#231f20" stroke-width="0.9"/>
<line x1="130.01" y1="618.8" x2="130.01" y2="621.3" stroke="#231f20" stroke-width="0.9"/>
<line x1="131.2" y1="618.8" x2="131.2" y2="623.2" stroke="#231f20" stroke-width="1"/>
<line x1="138.97" y1="618.8" x2="138.97" y2="621.3" stroke="#231f20" stroke-width="0.9"/>
<line x1="30.2" y1="513.7" x2="34.6" y2="513.7" stroke="#231f20" stroke-width="1"/>
<line x1="30.2" y1="563.2" x2="34.6" y2="563.2" stroke="#231f20" stroke-width="1"/>
<line x1="30.2" y1="618.6" x2="34.6" y2="618.6" stroke="#231f20" stroke-width="1"/>
<line x1="32.2" y1="548.3" x2="34.6" y2="548.3" stroke="#231f20" stroke-width="0.9"/>
<line x1="32.2" y1="539.58" x2="34.6" y2="539.58" stroke="#231f20" stroke-width="0.9"/>
<line x1="32.2" y1="533.4" x2="34.6" y2="533.4" stroke="#231f20" stroke-width="0.9"/>
<line x1="32.2" y1="528.6" x2="34.6" y2="528.6" stroke="#231f20" stroke-width="0.9"/>
<line x1="32.2" y1="524.68" x2="34.6" y2="524.68" stroke="#231f20" stroke-width="0.9"/>
<line x1="32.2" y1="521.37" x2="34.6" y2="521.37" stroke="#231f20" stroke-width="0.9"/>
<line x1="32.2" y1="518.5" x2="34.6" y2="518.5" stroke="#231f20" stroke-width="0.9"/>
<line x1="32.2" y1="515.96" x2="34.6" y2="515.96" stroke="#231f20" stroke-width="0.9"/>
<line x1="32.2" y1="567.2" x2="34.6" y2="567.2" stroke="#231f20" stroke-width="0.9"/>
<line x1="32.2" y1="570.1" x2="34.6" y2="570.1" stroke="#231f20" stroke-width="0.9"/>
<line x1="32.2" y1="573.6" x2="34.6" y2="573.6" stroke="#231f20" stroke-width="0.9"/>
<line x1="32.2" y1="580" x2="34.6" y2="580" stroke="#231f20" stroke-width="0.9"/>
<line x1="32.2" y1="585.2" x2="34.6" y2="585.2" stroke="#231f20" stroke-width="0.9"/>
<line x1="32.2" y1="591.6" x2="34.6" y2="591.6" stroke="#231f20" stroke-width="0.9"/>
<line x1="32.2" y1="601.3" x2="34.6" y2="601.3" stroke="#231f20" stroke-width="0.9"/>
<rect x="34.6" y="513.7" width="106.7" height="105.1" fill="none" stroke="#231f20" stroke-width="1.4"/>
<rect x="56.5" y="573.5" width="1.5" height="1.5" fill="#2d2079"/>
<rect x="57" y="567.5" width="1.5" height="1.5" fill="#2d2079"/>
<rect x="54.5" y="569" width="1.5" height="1.5" fill="#2d2079"/>
<rect x="61" y="571.5" width="1.5" height="1.5" fill="#2d2079"/>
<rect x="61" y="570.5" width="1.5" height="1.5" fill="#2d2079"/>
<rect x="59" y="570.5" width="1.5" height="1.5" fill="#2d2079"/>
<rect x="52" y="577.5" width="1.5" height="1.5" fill="#2d2079"/>
<rect x="59" y="572.5" width="1.5" height="1.5" fill="#2d2079"/>
<rect x="52" y="558.5" width="1.5" height="1.5" fill="#2d2079"/>
<rect x="54.5" y="567" width="1.5" height="1.5" fill="#2d2079"/>
<rect x="58.5" y="569" width="1.5" height="1.5" fill="#2d2079"/>
<rect x="59" y="564.5" width="1.5" height="1.5" fill="#2d2079"/>
<rect x="58.5" y="572" width="1.5" height="1.5" fill="#2d2079"/>
<rect x="55.5" y="582.5" width="1.5" height="1.5" fill="#2d2079"/>
<rect x="59.5" y="577.5" width="1.5" height="1.5" fill="#2d2079"/>
<rect x="55.5" y="565" width="1.5" height="1.5" fill="#2d2079"/>
<rect x="56.5" y="569" width="1.5" height="1.5" fill="#2d2079"/>
<rect x="59.5" y="570.5" width="1.5" height="1.5" fill="#2d2079"/>
<rect x="56" y="563" width="1.5" height="1.5" fill="#2d2079"/>
<rect x="56" y="579" width="1.5" height="1.5" fill="#2d2079"/>
<rect x="55" y="572" width="1.5" height="1.5" fill="#2d2079"/>
<rect x="59" y="558.5" width="1.5" height="1.5" fill="#2d2079"/>
<rect x="57.5" y="579" width="1.5" height="1.5" fill="#2d2079"/>
<rect x="51" y="569" width="1.5" height="1.5" fill="#2d2079"/>
<rect x="57" y="563.5" width="1.5" height="1.5" fill="#2d2079"/>
<rect x="59" y="568.5" width="1.5" height="1.5" fill="#2d2079"/>
<rect x="53" y="577" width="1.5" height="1.5" fill="#2d2079"/>
<rect x="59.5" y="575.5" width="1.5" height="1.5" fill="#2d2079"/>
<rect x="62" y="570.5" width="1.5" height="1.5" fill="#2d2079"/>
<rect x="58" y="560" width="1.5" height="1.5" fill="#2d2079"/>
<rect x="59.5" y="564.5" width="1.5" height="1.5" fill="#2d2079"/>
<rect x="56" y="561" width="1.5" height="1.5" fill="#2d2079"/>
<rect x="54.5" y="566.5" width="1.5" height="1.5" fill="#2d2079"/>
<rect x="61.5" y="553.5" width="1.5" height="1.5" fill="#2d2079"/>
<rect x="53" y="572.5" width="1.5" height="1.5" fill="#2d2079"/>
<rect x="62" y="572.5" width="1.5" height="1.5" fill="#2d2079"/>
<rect x="58.5" y="564" width="1.5" height="1.5" fill="#2d2079"/>
<rect x="54" y="577.5" width="1.5" height="1.5" fill="#2d2079"/>
<rect x="61" y="569.5" width="1.5" height="1.5" fill="#2d2079"/>
<rect x="58.5" y="572.5" width="1.5" height="1.5" fill="#2d2079"/>
<rect x="62.5" y="572.5" width="1.5" height="1.5" fill="#2d2079"/>
<rect x="59" y="573" width="1.5" height="1.5" fill="#2d2079"/>
<rect x="52.5" y="580" width="1.5" height="1.5" fill="#2d2079"/>
<rect x="60.5" y="572.5" width="1.5" height="1.5" fill="#2d2079"/>
<rect x="51" y="567" width="1.5" height="1.5" fill="#2d2079"/>
<rect x="60" y="555.5" width="1.5" height="1.5" fill="#2d2079"/>
<rect x="57" y="577" width="1.5" height="1.5" fill="#2d2079"/>
<rect x="53.5" y="582.5" width="1.5" height="1.5" fill="#2d2079"/>
<rect x="59.5" y="568" width="1.5" height="1.5" fill="#2d2079"/>
<rect x="58.5" y="574" width="1.5" height="1.5" fill="#2d2079"/>
<rect x="58" y="577.5" width="1.5" height="1.5" fill="#2d2079"/>
<rect x="55.5" y="567" width="1.5" height="1.5" fill="#2d2079"/>
<rect x="61" y="568.5" width="1.5" height="1.5" fill="#2d2079"/>
<rect x="54.5" y="577" width="1.5" height="1.5" fill="#2d2079"/>
<rect x="62" y="565" width="1.5" height="1.5" fill="#2d2079"/>
<rect x="53" y="570" width="1.5" height="1.5" fill="#2d2079"/>
<rect x="57" y="567.5" width="1.5" height="1.5" fill="#2d2079"/>
<rect x="62" y="561" width="1.5" height="1.5" fill="#2d2079"/>
<rect x="61.5" y="559" width="1.5" height="1.5" fill="#2d2079"/>
<rect x="55" y="575" width="1.5" height="1.5" fill="#2d2079"/>
<rect x="61" y="574.5" width="1.5" height="1.5" fill="#2d2079"/>
<rect x="58.5" y="570" width="1.5" height="1.5" fill="#2d2079"/>
<rect x="58" y="573.5" width="1.5" height="1.5" fill="#2d2079"/>
<rect x="57" y="571.5" width="1.5" height="1.5" fill="#2d2079"/>
<rect x="59.5" y="569" width="1.5" height="1.5" fill="#2d2079"/>
<rect x="60" y="573" width="1.5" height="1.5" fill="#2d2079"/>
<rect x="64" y="570" width="1.5" height="1.5" fill="#2d2079"/>
<rect x="56" y="567" width="1.5" height="1.5" fill="#2d2079"/>
<rect x="57.5" y="576" width="1.5" height="1.5" fill="#2d2079"/>
<rect x="56.5" y="572.5" width="1.5" height="1.5" fill="#2d2079"/>
<rect x="54" y="572.5" width="1.5" height="1.5" fill="#2d2079"/>
<rect x="59" y="571" width="1.5" height="1.5" fill="#2d2079"/>
<rect x="56" y="574.5" width="1.5" height="1.5" fill="#2d2079"/>
<rect x="58.5" y="565.5" width="1.5" height="1.5" fill="#2d2079"/>
<rect x="65.5" y="569.5" width="1.5" height="1.5" fill="#2d2079"/>
<rect x="55.5" y="569.5" width="1.5" height="1.5" fill="#2d2079"/>
<rect x="57" y="569.5" width="1.5" height="1.5" fill="#2d2079"/>
<rect x="60.5" y="560" width="1.5" height="1.5" fill="#2d2079"/>
<rect x="57.5" y="576.5" width="1.5" height="1.5" fill="#2d2079"/>
<rect x="60" y="579.5" width="1.5" height="1.5" fill="#2d2079"/>
<rect x="52" y="568.5" width="1.5" height="1.5" fill="#2d2079"/>
<rect x="56.5" y="574.5" width="1.5" height="1.5" fill="#2d2079"/>
<rect x="61" y="558" width="1.5" height="1.5" fill="#2d2079"/>
<rect x="59.5" y="558" width="1.5" height="1.5" fill="#2d2079"/>
<rect x="58" y="578" width="1.5" height="1.5" fill="#2d2079"/>
<rect x="57" y="571" width="1.5" height="1.5" fill="#2d2079"/>
<rect x="60" y="570" width="1.5" height="1.5" fill="#2d2079"/>
<rect x="57" y="580.5" width="1.5" height="1.5" fill="#2d2079"/>
<rect x="61" y="566.5" width="1.5" height="1.5" fill="#2d2079"/>
<rect x="66.5" y="558.5" width="1.5" height="1.5" fill="#2d2079"/>
<rect x="60.5" y="566.5" width="1.5" height="1.5" fill="#2d2079"/>
<rect x="58" y="574.5" width="1.5" height="1.5" fill="#2d2079"/>
<rect x="58" y="574" width="1.5" height="1.5" fill="#2d2079"/>
<rect x="52.5" y="560" width="1.5" height="1.5" fill="#2d2079"/>
<rect x="59.5" y="562" width="1.5" height="1.5" fill="#2d2079"/>
<rect x="54" y="560" width="1.5" height="1.5" fill="#2d2079"/>
<rect x="61.5" y="573.5" width="1.5" height="1.5" fill="#2d2079"/>
<rect x="62" y="561.5" width="1.5" height="1.5" fill="#2d2079"/>
<rect x="57.5" y="561.5" width="1.5" height="1.5" fill="#2d2079"/>
<rect x="60" y="580" width="1.5" height="1.5" fill="#2d2079"/>
<rect x="54.5" y="581.5" width="1.5" height="1.5" fill="#2d2079"/>
<rect x="60.5" y="567.5" width="1.5" height="1.5" fill="#2d2079"/>
<rect x="51" y="581.5" width="1.5" height="1.5" fill="#2d2079"/>
<rect x="57" y="565.5" width="1.5" height="1.5" fill="#2d2079"/>
<rect x="59" y="572" width="1.5" height="1.5" fill="#2d2079"/>
<rect x="62.5" y="560.5" width="1.5" height="1.5" fill="#2d2079"/>
<rect x="74.5" y="573.5" width="1.5" height="1.5" fill="#2d2079"/>
<rect x="102.5" y="543.5" width="1.5" height="1.5" fill="#2d2079"/>
<rect x="86.5" y="559.5" width="1.5" height="1.5" fill="#2d2079"/>
<rect x="65.5" y="568.5" width="1.5" height="1.5" fill="#2d2079"/>
<rect x="117.5" y="548.5" width="1.5" height="1.5" fill="#2d2079"/>
<rect x="116" y="547.5" width="1.5" height="1.5" fill="#2d2079"/>
<rect x="91" y="568.5" width="1.5" height="1.5" fill="#2d2079"/>
<rect x="78.5" y="557.5" width="1.5" height="1.5" fill="#2d2079"/>
<rect x="81" y="563.5" width="1.5" height="1.5" fill="#2d2079"/>
<rect x="99" y="562.5" width="1.5" height="1.5" fill="#2d2079"/>
<rect x="81.5" y="561.5" width="1.5" height="1.5" fill="#2d2079"/>
<rect x="115" y="554.5" width="1.5" height="1.5" fill="#2d2079"/>
<rect x="86.5" y="555.5" width="1.5" height="1.5" fill="#2d2079"/>
<rect x="114.5" y="555.5" width="1.5" height="1.5" fill="#2d2079"/>
<rect x="90.5" y="567" width="1.5" height="1.5" fill="#2d2079"/>
<rect x="96" y="556" width="1.5" height="1.5" fill="#2d2079"/>
<rect x="95.5" y="565.5" width="1.5" height="1.5" fill="#2d2079"/>
<rect x="77" y="566.5" width="1.5" height="1.5" fill="#2d2079"/>
<rect x="64.5" y="571" width="1.5" height="1.5" fill="#2d2079"/>
<rect x="93" y="557" width="1.5" height="1.5" fill="#2d2079"/>
<rect x="106" y="551.5" width="1.5" height="1.5" fill="#2d2079"/>
<rect x="95.5" y="558" width="1.5" height="1.5" fill="#2d2079"/>
<rect x="97.5" y="559.5" width="1.5" height="1.5" fill="#2d2079"/>
<rect x="97.5" y="556.5" width="1.5" height="1.5" fill="#2d2079"/>
<rect x="81" y="563" width="1.5" height="1.5" fill="#2d2079"/>
<rect x="95" y="569.5" width="1.5" height="1.5" fill="#2d2079"/>
<rect x="97.5" y="559.5" width="1.5" height="1.5" fill="#2d2079"/>
<rect x="91.5" y="548.5" width="1.5" height="1.5" fill="#2d2079"/>
<rect x="100.5" y="551.5" width="1.5" height="1.5" fill="#2d2079"/>
<rect x="104.5" y="556.5" width="1.5" height="1.5" fill="#2d2079"/>
<rect x="92" y="554.5" width="1.5" height="1.5" fill="#2d2079"/>
<rect x="116.5" y="551.5" width="1.5" height="1.5" fill="#2d2079"/>
<rect x="104.5" y="566" width="1.5" height="1.5" fill="#2d2079"/>
<rect x="81.5" y="555" width="1.5" height="1.5" fill="#2d2079"/>
<rect x="97.5" y="569" width="1.5" height="1.5" fill="#2d2079"/>
<rect x="74" y="563" width="1.5" height="1.5" fill="#2d2079"/>
<rect x="73" y="565" width="1.5" height="1.5" fill="#2d2079"/>
<rect x="80.5" y="565.5" width="1.5" height="1.5" fill="#2d2079"/>
<rect x="70" y="563.5" width="1.5" height="1.5" fill="#2d2079"/>
<rect x="114" y="545" width="1.5" height="1.5" fill="#2d2079"/>
<rect x="75" y="564.5" width="1.5" height="1.5" fill="#2d2079"/>
<rect x="74.5" y="558.5" width="1.5" height="1.5" fill="#2d2079"/>
<rect x="113.5" y="557.5" width="1.5" height="1.5" fill="#2d2079"/>
<rect x="117" y="552" width="1.5" height="1.5" fill="#2d2079"/>
<rect x="89" y="545" width="1.5" height="1.5" fill="#2d2079"/>
<rect x="111" y="556" width="1.5" height="1.5" fill="#2d2079"/>
<rect x="75.5" y="560" width="1.5" height="1.5" fill="#2d2079"/>
<rect x="86" y="565.5" width="1.5" height="1.5" fill="#2d2079"/>
<rect x="77.5" y="561.5" width="1.5" height="1.5" fill="#2d2079"/>
<rect x="66" y="577.5" width="1.5" height="1.5" fill="#2d2079"/>
<rect x="97.5" y="558" width="1.5" height="1.5" fill="#2d2079"/>
<rect x="85.5" y="563.5" width="1.5" height="1.5" fill="#2d2079"/>
<rect x="101" y="556" width="1.5" height="1.5" fill="#2d2079"/>
<rect x="118.5" y="552" width="1.5" height="1.5" fill="#2d2079"/>
<rect x="109" y="558" width="1.5" height="1.5" fill="#2d2079"/>
<rect x="82" y="563.5" width="1.5" height="1.5" fill="#2d2079"/>
<rect x="67.5" y="569.5" width="1.5" height="1.5" fill="#2d2079"/>
<rect x="73.5" y="562.5" width="1.5" height="1.5" fill="#2d2079"/>
<rect x="90.5" y="570" width="1.5" height="1.5" fill="#2d2079"/>
<rect x="81.5" y="559" width="1.5" height="1.5" fill="#2d2079"/>
<rect x="75" y="573" width="1.5" height="1.5" fill="#2d2079"/>
<rect x="104.5" y="553" width="1.5" height="1.5" fill="#2d2079"/>
<rect x="71" y="575.5" width="1.5" height="1.5" fill="#2d2079"/>
<rect x="90.5" y="564" width="1.5" height="1.5" fill="#2d2079"/>
<rect x="70" y="575.5" width="1.5" height="1.5" fill="#2d2079"/>
<rect x="109.5" y="552" width="1.5" height="1.5" fill="#2d2079"/>
<rect x="70.5" y="569" width="1.5" height="1.5" fill="#2d2079"/>
<rect x="112.5" y="552.5" width="1.5" height="1.5" fill="#2d2079"/>
<rect x="92" y="557" width="1.5" height="1.5" fill="#2d2079"/>
<rect x="115.5" y="559" width="1.5" height="1.5" fill="#2d2079"/>
<rect x="82" y="569" width="1.5" height="1.5" fill="#2d2079"/>
<rect x="80.5" y="569.5" width="1.5" height="1.5" fill="#2d2079"/>
<rect x="72.5" y="568" width="1.5" height="1.5" fill="#2d2079"/>
<rect x="78" y="567" width="1.5" height="1.5" fill="#2d2079"/>
<rect x="84.5" y="560" width="1.5" height="1.5" fill="#2d2079"/>
<rect x="83" y="572.5" width="1.5" height="1.5" fill="#2d2079"/>
<rect x="94.5" y="562" width="1.5" height="1.5" fill="#2d2079"/>
<rect x="66" y="574" width="1.5" height="1.5" fill="#2d2079"/>
<rect x="81" y="573.5" width="1.5" height="1.5" fill="#2d2079"/>
<rect x="97" y="560" width="1.5" height="1.5" fill="#2d2079"/>
<rect x="77.5" y="552.5" width="1.5" height="1.5" fill="#2d2079"/>
<rect x="72" y="569.5" width="1.5" height="1.5" fill="#2d2079"/>
<rect x="110.5" y="548.5" width="1.5" height="1.5" fill="#2d2079"/>
<rect x="111" y="557" width="1.5" height="1.5" fill="#2d2079"/>
<rect x="89" y="553.5" width="1.5" height="1.5" fill="#2d2079"/>
<rect x="118" y="552" width="1.5" height="1.5" fill="#2d2079"/>
<rect x="86" y="567" width="1.5" height="1.5" fill="#2d2079"/>
<rect x="101.5" y="550" width="1.5" height="1.5" fill="#2d2079"/>
<rect x="89.5" y="560.5" width="1.5" height="1.5" fill="#2d2079"/>
<rect x="73.5" y="568.5" width="1.5" height="1.5" fill="#2d2079"/>
<rect x="70" y="568" width="1.5" height="1.5" fill="#2d2079"/>
<rect x="76" y="562" width="1.5" height="1.5" fill="#2d2079"/>
<rect x="70.5" y="574" width="1.5" height="1.5" fill="#2d2079"/>
<rect x="103" y="547.5" width="1.5" height="1.5" fill="#2d2079"/>
<rect x="82.5" y="564" width="1.5" height="1.5" fill="#2d2079"/>
<rect x="92.5" y="565.5" width="1.5" height="1.5" fill="#2d2079"/>
<rect x="75.5" y="562" width="1.5" height="1.5" fill="#2d2079"/>
<rect x="117" y="554" width="1.5" height="1.5" fill="#2d2079"/>
<rect x="117.5" y="548.5" width="1.5" height="1.5" fill="#2d2079"/>
<rect x="117.5" y="551" width="1.5" height="1.5" fill="#2d2079"/>
<rect x="84.5" y="563" width="1.5" height="1.5" fill="#2d2079"/>
<rect x="88.5" y="562" width="1.5" height="1.5" fill="#2d2079"/>
<rect x="93" y="556.5" width="1.5" height="1.5" fill="#2d2079"/>
<rect x="95" y="560" width="1.5" height="1.5" fill="#2d2079"/>
<rect x="64.5" y="569.5" width="1.5" height="1.5" fill="#2d2079"/>
<rect x="89" y="564" width="1.5" height="1.5" fill="#2d2079"/>
<rect x="67.5" y="573.5" width="1.5" height="1.5" fill="#2d2079"/>
<rect x="80" y="565.5" width="1.5" height="1.5" fill="#2d2079"/>
<rect x="99" y="549.5" width="1.5" height="1.5" fill="#2d2079"/>
<rect x="102.5" y="555.5" width="1.5" height="1.5" fill="#2d2079"/>
<rect x="105.5" y="560.5" width="1.5" height="1.5" fill="#2d2079"/>
<rect x="85" y="559" width="1.5" height="1.5" fill="#2d2079"/>
<rect x="118.5" y="557.5" width="1.5" height="1.5" fill="#2d2079"/>
<rect x="102" y="565" width="1.5" height="1.5" fill="#2d2079"/>
<rect x="68" y="575" width="1.5" height="1.5" fill="#2d2079"/>
<rect x="101" y="547.5" width="1.5" height="1.5" fill="#2d2079"/>
<rect x="106.5" y="557" width="1.5" height="1.5" fill="#2d2079"/>
<rect x="95.5" y="556.5" width="1.5" height="1.5" fill="#2d2079"/>
<rect x="94.5" y="565" width="1.5" height="1.5" fill="#2d2079"/>
<rect x="111" y="546" width="1.5" height="1.5" fill="#2d2079"/>
<rect x="99" y="565" width="1.5" height="1.5" fill="#2d2079"/>
<rect x="104.5" y="551.5" width="1.5" height="1.5" fill="#2d2079"/>
<rect x="80" y="567.5" width="1.5" height="1.5" fill="#2d2079"/>
<rect x="87" y="563" width="1.5" height="1.5" fill="#2d2079"/>
<rect x="72" y="571" width="1.5" height="1.5" fill="#2d2079"/>
<rect x="101" y="551.5" width="1.5" height="1.5" fill="#2d2079"/>
<rect x="101" y="555" width="1.5" height="1.5" fill="#2d2079"/>
<rect x="64.5" y="564" width="1.5" height="1.5" fill="#2d2079"/>
<rect x="109.5" y="555" width="1.5" height="1.5" fill="#2d2079"/>
<rect x="96.5" y="552.5" width="1.5" height="1.5" fill="#2d2079"/>
<rect x="102.5" y="565.5" width="1.5" height="1.5" fill="#2d2079"/>
<rect x="81" y="568" width="1.5" height="1.5" fill="#2d2079"/>
<rect x="70" y="567" width="1.5" height="1.5" fill="#2d2079"/>
<rect x="78.5" y="574.5" width="1.5" height="1.5" fill="#2d2079"/>
<rect x="106.5" y="562.5" width="1.5" height="1.5" fill="#2d2079"/>
<rect x="88.5" y="561" width="1.5" height="1.5" fill="#2d2079"/>
<rect x="93.5" y="556.5" width="1.5" height="1.5" fill="#2d2079"/>
<rect x="100.5" y="549" width="1.5" height="1.5" fill="#2d2079"/>
<rect x="102" y="560.5" width="1.5" height="1.5" fill="#2d2079"/>
<rect x="81" y="566" width="1.5" height="1.5" fill="#2d2079"/>
<rect x="106.5" y="553.5" width="1.5" height="1.5" fill="#2d2079"/>
<rect x="65.5" y="576.5" width="1.5" height="1.5" fill="#2d2079"/>
<rect x="69" y="567.5" width="1.5" height="1.5" fill="#2d2079"/>
<rect x="104" y="565" width="1.5" height="1.5" fill="#2d2079"/>
<rect x="103.5" y="555.5" width="1.5" height="1.5" fill="#2d2079"/>
<rect x="92.5" y="567" width="1.5" height="1.5" fill="#2d2079"/>
<rect x="93" y="569" width="1.5" height="1.5" fill="#2d2079"/>
<rect x="78" y="573.5" width="1.5" height="1.5" fill="#2d2079"/>
<rect x="118" y="553" width="1.5" height="1.5" fill="#2d2079"/>
<rect x="92.5" y="560" width="1.5" height="1.5" fill="#2d2079"/>
<rect x="110.5" y="560.5" width="1.5" height="1.5" fill="#2d2079"/>
<rect x="82" y="563" width="1.5" height="1.5" fill="#2d2079"/>
<rect x="78.5" y="569" width="1.5" height="1.5" fill="#2d2079"/>
<rect x="98.5" y="557.5" width="1.5" height="1.5" fill="#2d2079"/>
<rect x="74.5" y="553" width="1.5" height="1.5" fill="#2d2079"/>
<rect x="74" y="564.5" width="1.5" height="1.5" fill="#2d2079"/>
<rect x="110.5" y="543" width="1.5" height="1.5" fill="#2d2079"/>
<rect x="105" y="556" width="1.5" height="1.5" fill="#2d2079"/>
<rect x="80" y="570" width="1.5" height="1.5" fill="#2d2079"/>
<rect x="66.5" y="565.5" width="1.5" height="1.5" fill="#2d2079"/>
<rect x="64.5" y="563.5" width="1.5" height="1.5" fill="#2d2079"/>
<rect x="84" y="564" width="1.5" height="1.5" fill="#2d2079"/>
<rect x="74.5" y="564" width="1.5" height="1.5" fill="#2d2079"/>
<rect x="111.5" y="558.5" width="1.5" height="1.5" fill="#2d2079"/>
<rect x="64" y="570" width="1.5" height="1.5" fill="#2d2079"/>
<rect x="73" y="556.5" width="1.5" height="1.5" fill="#2d2079"/>
<rect x="115.5" y="550" width="1.5" height="1.5" fill="#2d2079"/>
<rect x="83" y="552" width="1.5" height="1.5" fill="#2d2079"/>
<rect x="87.5" y="546" width="1.5" height="1.5" fill="#2d2079"/>
<rect x="99" y="571" width="1.5" height="1.5" fill="#2d2079"/>
<rect x="87" y="558.5" width="1.5" height="1.5" fill="#2d2079"/>
<rect x="68" y="570.5" width="1.5" height="1.5" fill="#2d2079"/>
<rect x="72" y="569.5" width="1.5" height="1.5" fill="#2d2079"/>
<rect x="116" y="549" width="1.5" height="1.5" fill="#2d2079"/>
<rect x="81" y="564" width="1.5" height="1.5" fill="#2d2079"/>
<rect x="77.5" y="572" width="1.5" height="1.5" fill="#2d2079"/>
<rect x="88" y="573.5" width="1.5" height="1.5" fill="#2d2079"/>
<rect x="110" y="551.5" width="1.5" height="1.5" fill="#2d2079"/>
<rect x="101" y="569" width="1.5" height="1.5" fill="#2d2079"/>
<rect x="97" y="552" width="1.5" height="1.5" fill="#2d2079"/>
<rect x="105.5" y="565" width="1.5" height="1.5" fill="#2d2079"/>
<rect x="92" y="563.5" width="1.5" height="1.5" fill="#2d2079"/>
<rect x="107" y="553" width="1.5" height="1.5" fill="#2d2079"/>
<rect x="68" y="565" width="1.5" height="1.5" fill="#2d2079"/>
<rect x="115.5" y="557.5" width="1.5" height="1.5" fill="#2d2079"/>
<rect x="86" y="567" width="1.5" height="1.5" fill="#2d2079"/>
<rect x="83.5" y="562.5" width="1.5" height="1.5" fill="#2d2079"/>
<rect x="81.5" y="549" width="1.5" height="1.5" fill="#2d2079"/>
<rect x="102.5" y="555" width="1.5" height="1.5" fill="#2d2079"/>
<rect x="89" y="568.5" width="1.5" height="1.5" fill="#2d2079"/>
<rect x="76" y="568" width="1.5" height="1.5" fill="#2d2079"/>
<rect x="114.5" y="556.5" width="1.5" height="1.5" fill="#2d2079"/>
<rect x="94.5" y="562.5" width="1.5" height="1.5" fill="#2d2079"/>
<rect x="119" y="564" width="1.5" height="1.5" fill="#2d2079"/>
<rect x="92" y="563" width="1.5" height="1.5" fill="#2d2079"/>
<rect x="71" y="570.5" width="1.5" height="1.5" fill="#2d2079"/>
<rect x="86" y="566" width="1.5" height="1.5" fill="#2d2079"/>
<rect x="81.5" y="566.5" width="1.5" height="1.5" fill="#2d2079"/>
<rect x="98" y="566" width="1.5" height="1.5" fill="#2d2079"/>
<rect x="90" y="555.5" width="1.5" height="1.5" fill="#2d2079"/>
<rect x="90" y="556" width="1.5" height="1.5" fill="#2d2079"/>
<rect x="86" y="562" width="1.5" height="1.5" fill="#2d2079"/>
<rect x="69" y="566" width="1.5" height="1.5" fill="#2d2079"/>
<rect x="94.5" y="552" width="1.5" height="1.5" fill="#2d2079"/>
<rect x="79" y="557" width="1.5" height="1.5" fill="#2d2079"/>
<rect x="82" y="564" width="1.5" height="1.5" fill="#2d2079"/>
<rect x="91.5" y="566.5" width="1.5" height="1.5" fill="#2d2079"/>
<rect x="117" y="559" width="1.5" height="1.5" fill="#2d2079"/>
<rect x="66" y="560" width="1.5" height="1.5" fill="#2d2079"/>
<rect x="67" y="566" width="1.5" height="1.5" fill="#2d2079"/>
<rect x="93" y="549" width="1.5" height="1.5" fill="#2d2079"/>
<rect x="99" y="564" width="1.5" height="1.5" fill="#2d2079"/>
<rect x="115.5" y="553" width="1.5" height="1.5" fill="#2d2079"/>
<rect x="110.5" y="564" width="1.5" height="1.5" fill="#2d2079"/>
<rect x="81" y="552.5" width="1.5" height="1.5" fill="#2d2079"/>
<rect x="72.5" y="571" width="1.5" height="1.5" fill="#2d2079"/>
<rect x="103.5" y="562.5" width="1.5" height="1.5" fill="#2d2079"/>
<rect x="116.5" y="551.5" width="1.5" height="1.5" fill="#2d2079"/>
<rect x="108" y="547.5" width="1.5" height="1.5" fill="#2d2079"/>
<rect x="92.5" y="559" width="1.5" height="1.5" fill="#2d2079"/>
<rect x="108.5" y="555" width="1.5" height="1.5" fill="#2d2079"/>
<rect x="80" y="572" width="1.5" height="1.5" fill="#2d2079"/>
<rect x="84" y="559.5" width="1.5" height="1.5" fill="#2d2079"/>
<rect x="73.5" y="566.5" width="1.5" height="1.5" fill="#2d2079"/>
<rect x="104.5" y="564.5" width="1.5" height="1.5" fill="#2d2079"/>
<rect x="72.5" y="573.5" width="1.5" height="1.5" fill="#2d2079"/>
<rect x="99" y="561.5" width="1.5" height="1.5" fill="#2d2079"/>
<rect x="88.5" y="563" width="1.5" height="1.5" fill="#2d2079"/>
<rect x="65" y="577" width="1.5" height="1.5" fill="#2d2079"/>
<rect x="84" y="549.5" width="1.5" height="1.5" fill="#2d2079"/>
<rect x="102" y="561" width="1.5" height="1.5" fill="#2d2079"/>
<rect x="113.5" y="549.5" width="1.5" height="1.5" fill="#2d2079"/>
<rect x="81" y="565" width="1.5" height="1.5" fill="#2d2079"/>
<rect x="117" y="551" width="1.5" height="1.5" fill="#2d2079"/>
<rect x="66" y="564.5" width="1.5" height="1.5" fill="#2d2079"/>
<rect x="94.5" y="557.5" width="1.5" height="1.5" fill="#2d2079"/>
<rect x="81.5" y="559" width="1.5" height="1.5" fill="#2d2079"/>
<rect x="103" y="560.5" width="1.5" height="1.5" fill="#2d2079"/>
<rect x="67" y="567" width="1.5" height="1.5" fill="#2d2079"/>
<rect x="86" y="555.5" width="1.5" height="1.5" fill="#2d2079"/>
<rect x="78" y="569.5" width="1.5" height="1.5" fill="#2d2079"/>
<rect x="109.5" y="554.5" width="1.5" height="1.5" fill="#2d2079"/>
<rect x="78.5" y="558.5" width="1.5" height="1.5" fill="#2d2079"/>
<rect x="117.5" y="548.5" width="1.5" height="1.5" fill="#2d2079"/>
<rect x="56.75" y="567.25" width="1.6" height="1.6" fill="#e0502a"/>
<rect x="69.75" y="563.75" width="1.6" height="1.6" fill="#e0502a"/>
<rect x="65.55" y="575.75" width="1.6" height="1.6" fill="#e0502a"/>
<rect x="103.75" y="551.25" width="1.6" height="1.6" fill="#e0502a"/>
<text transform="translate(75.1,505.6) scale(0.882,1)" font-size="11" fill="#231f20" color="#231f20">HSCs</text>
<text transform="translate(22.8,584.38) rotate(-90) scale(0.934,1)" font-size="14" fill="#231f20" color="#231f20">mito-Dendra2</text>
<path d="M18.2,599.8 V636 H92.6" fill="none" stroke="#231f20" stroke-width="1.2"/>
<line x1="18.2" y1="599.9" x2="18.2" y2="599.3" stroke="#231f20" stroke-width="1.2"/>
<path d="M18.2,592.5 L22,601.3 L18.2,599.8 L14.4,601.3 Z" fill="#231f20"/>
<line x1="92.5" y1="636" x2="92.4" y2="636" stroke="#231f20" stroke-width="1.2"/>
<path d="M99,636 L90.4,639.6 L91.9,636 L90.4,632.4 Z" fill="#231f20"/>
<text transform="translate(103.71,639.9) scale(0.786,1)" font-size="13.8" fill="#231f20" color="#231f20">EPCR</text>
<line x1="202.8" y1="604" x2="207.2" y2="604" stroke="#231f20" stroke-width="1"/>
<line x1="204.8" y1="615.18" x2="207.2" y2="615.18" stroke="#231f20" stroke-width="0.9"/>
<line x1="204.8" y1="612.37" x2="207.2" y2="612.37" stroke="#231f20" stroke-width="0.9"/>
<line x1="204.8" y1="610.37" x2="207.2" y2="610.37" stroke="#231f20" stroke-width="0.9"/>
<line x1="204.8" y1="608.82" x2="207.2" y2="608.82" stroke="#231f20" stroke-width="0.9"/>
<line x1="204.8" y1="607.55" x2="207.2" y2="607.55" stroke="#231f20" stroke-width="0.9"/>
<line x1="204.8" y1="606.48" x2="207.2" y2="606.48" stroke="#231f20" stroke-width="0.9"/>
<line x1="204.8" y1="605.55" x2="207.2" y2="605.55" stroke="#231f20" stroke-width="0.9"/>
<line x1="204.8" y1="604.73" x2="207.2" y2="604.73" stroke="#231f20" stroke-width="0.9"/>
<line x1="202.8" y1="572.4" x2="207.2" y2="572.4" stroke="#231f20" stroke-width="1"/>
<line x1="204.8" y1="594.49" x2="207.2" y2="594.49" stroke="#231f20" stroke-width="0.9"/>
<line x1="204.8" y1="588.92" x2="207.2" y2="588.92" stroke="#231f20" stroke-width="0.9"/>
<line x1="204.8" y1="584.97" x2="207.2" y2="584.97" stroke="#231f20" stroke-width="0.9"/>
<line x1="204.8" y1="581.91" x2="207.2" y2="581.91" stroke="#231f20" stroke-width="0.9"/>
<line x1="204.8" y1="579.41" x2="207.2" y2="579.41" stroke="#231f20" stroke-width="0.9"/>
<line x1="204.8" y1="577.29" x2="207.2" y2="577.29" stroke="#231f20" stroke-width="0.9"/>
<line x1="204.8" y1="575.46" x2="207.2" y2="575.46" stroke="#231f20" stroke-width="0.9"/>
<line x1="204.8" y1="573.85" x2="207.2" y2="573.85" stroke="#231f20" stroke-width="0.9"/>
<line x1="202.8" y1="546.3" x2="207.2" y2="546.3" stroke="#231f20" stroke-width="1"/>
<line x1="204.8" y1="564.54" x2="207.2" y2="564.54" stroke="#231f20" stroke-width="0.9"/>
<line x1="204.8" y1="559.95" x2="207.2" y2="559.95" stroke="#231f20" stroke-width="0.9"/>
<line x1="204.8" y1="556.69" x2="207.2" y2="556.69" stroke="#231f20" stroke-width="0.9"/>
<line x1="204.8" y1="554.16" x2="207.2" y2="554.16" stroke="#231f20" stroke-width="0.9"/>
<line x1="204.8" y1="552.09" x2="207.2" y2="552.09" stroke="#231f20" stroke-width="0.9"/>
<line x1="204.8" y1="550.34" x2="207.2" y2="550.34" stroke="#231f20" stroke-width="0.9"/>
<line x1="204.8" y1="548.83" x2="207.2" y2="548.83" stroke="#231f20" stroke-width="0.9"/>
<line x1="204.8" y1="547.49" x2="207.2" y2="547.49" stroke="#231f20" stroke-width="0.9"/>
<line x1="202.8" y1="522.1" x2="207.2" y2="522.1" stroke="#231f20" stroke-width="1"/>
<line x1="204.8" y1="539.02" x2="207.2" y2="539.02" stroke="#231f20" stroke-width="0.9"/>
<line x1="204.8" y1="534.75" x2="207.2" y2="534.75" stroke="#231f20" stroke-width="0.9"/>
<line x1="204.8" y1="531.73" x2="207.2" y2="531.73" stroke="#231f20" stroke-width="0.9"/>
<line x1="204.8" y1="529.38" x2="207.2" y2="529.38" stroke="#231f20" stroke-width="0.9"/>
<line x1="204.8" y1="527.47" x2="207.2" y2="527.47" stroke="#231f20" stroke-width="0.9"/>
<line x1="204.8" y1="525.85" x2="207.2" y2="525.85" stroke="#231f20" stroke-width="0.9"/>
<line x1="204.8" y1="524.45" x2="207.2" y2="524.45" stroke="#231f20" stroke-width="0.9"/>
<line x1="204.8" y1="523.21" x2="207.2" y2="523.21" stroke="#231f20" stroke-width="0.9"/>
<line x1="204.8" y1="514.54" x2="207.2" y2="514.54" stroke="#231f20" stroke-width="0.9"/>
<line x1="208" y1="619" x2="208" y2="623.4" stroke="#231f20" stroke-width="1"/>
<line x1="212" y1="619" x2="212" y2="621.5" stroke="#231f20" stroke-width="1"/>
<line x1="216" y1="619" x2="216" y2="621.5" stroke="#231f20" stroke-width="1"/>
<line x1="220" y1="619" x2="220" y2="621.5" stroke="#231f20" stroke-width="1"/>
<line x1="224" y1="619" x2="224" y2="621.5" stroke="#231f20" stroke-width="1"/>
<line x1="228" y1="619" x2="228" y2="623.4" stroke="#231f20" stroke-width="1"/>
<line x1="232" y1="619" x2="232" y2="621.5" stroke="#231f20" stroke-width="1"/>
<line x1="236" y1="619" x2="236" y2="621.5" stroke="#231f20" stroke-width="1"/>
<line x1="240" y1="619" x2="240" y2="621.5" stroke="#231f20" stroke-width="1"/>
<line x1="244" y1="619" x2="244" y2="621.5" stroke="#231f20" stroke-width="1"/>
<line x1="248" y1="619" x2="248" y2="623.4" stroke="#231f20" stroke-width="1"/>
<line x1="252" y1="619" x2="252" y2="621.5" stroke="#231f20" stroke-width="1"/>
<line x1="256" y1="619" x2="256" y2="621.5" stroke="#231f20" stroke-width="1"/>
<line x1="260" y1="619" x2="260" y2="621.5" stroke="#231f20" stroke-width="1"/>
<line x1="264" y1="619" x2="264" y2="621.5" stroke="#231f20" stroke-width="1"/>
<line x1="268" y1="619" x2="268" y2="623.4" stroke="#231f20" stroke-width="1"/>
<line x1="272" y1="619" x2="272" y2="621.5" stroke="#231f20" stroke-width="1"/>
<line x1="276" y1="619" x2="276" y2="621.5" stroke="#231f20" stroke-width="1"/>
<line x1="280" y1="619" x2="280" y2="621.5" stroke="#231f20" stroke-width="1"/>
<line x1="284" y1="619" x2="284" y2="621.5" stroke="#231f20" stroke-width="1"/>
<line x1="288" y1="619" x2="288" y2="623.4" stroke="#231f20" stroke-width="1"/>
<line x1="292" y1="619" x2="292" y2="621.5" stroke="#231f20" stroke-width="1"/>
<line x1="296" y1="619" x2="296" y2="621.5" stroke="#231f20" stroke-width="1"/>
<line x1="300" y1="619" x2="300" y2="621.5" stroke="#231f20" stroke-width="1"/>
<line x1="304" y1="619" x2="304" y2="621.5" stroke="#231f20" stroke-width="1"/>
<line x1="308" y1="619" x2="308" y2="623.4" stroke="#231f20" stroke-width="1"/>
<line x1="312" y1="619" x2="312" y2="621.5" stroke="#231f20" stroke-width="1"/>
<rect x="207.2" y="513.3" width="106" height="105.7" fill="none" stroke="#231f20" stroke-width="1.4"/>
<line x1="235.9" y1="513.3" x2="235.9" y2="619" stroke="#3a3a3a" stroke-width="1.3"/>
<line x1="207.2" y1="577.7" x2="313.2" y2="577.7" stroke="#3a3a3a" stroke-width="1.3"/>
<line x1="327.7" y1="604" x2="332.1" y2="604" stroke="#231f20" stroke-width="1"/>
<line x1="329.7" y1="615.32" x2="332.1" y2="615.32" stroke="#231f20" stroke-width="0.9"/>
<line x1="329.7" y1="612.47" x2="332.1" y2="612.47" stroke="#231f20" stroke-width="0.9"/>
<line x1="329.7" y1="610.45" x2="332.1" y2="610.45" stroke="#231f20" stroke-width="0.9"/>
<line x1="329.7" y1="608.88" x2="332.1" y2="608.88" stroke="#231f20" stroke-width="0.9"/>
<line x1="329.7" y1="607.59" x2="332.1" y2="607.59" stroke="#231f20" stroke-width="0.9"/>
<line x1="329.7" y1="606.51" x2="332.1" y2="606.51" stroke="#231f20" stroke-width="0.9"/>
<line x1="329.7" y1="605.57" x2="332.1" y2="605.57" stroke="#231f20" stroke-width="0.9"/>
<line x1="329.7" y1="604.74" x2="332.1" y2="604.74" stroke="#231f20" stroke-width="0.9"/>
<line x1="327.7" y1="572.4" x2="332.1" y2="572.4" stroke="#231f20" stroke-width="1"/>
<line x1="329.7" y1="594.49" x2="332.1" y2="594.49" stroke="#231f20" stroke-width="0.9"/>
<line x1="329.7" y1="588.92" x2="332.1" y2="588.92" stroke="#231f20" stroke-width="0.9"/>
<line x1="329.7" y1="584.97" x2="332.1" y2="584.97" stroke="#231f20" stroke-width="0.9"/>
<line x1="329.7" y1="581.91" x2="332.1" y2="581.91" stroke="#231f20" stroke-width="0.9"/>
<line x1="329.7" y1="579.41" x2="332.1" y2="579.41" stroke="#231f20" stroke-width="0.9"/>
<line x1="329.7" y1="577.29" x2="332.1" y2="577.29" stroke="#231f20" stroke-width="0.9"/>
<line x1="329.7" y1="575.46" x2="332.1" y2="575.46" stroke="#231f20" stroke-width="0.9"/>
<line x1="329.7" y1="573.85" x2="332.1" y2="573.85" stroke="#231f20" stroke-width="0.9"/>
<line x1="327.7" y1="546.3" x2="332.1" y2="546.3" stroke="#231f20" stroke-width="1"/>
<line x1="329.7" y1="564.54" x2="332.1" y2="564.54" stroke="#231f20" stroke-width="0.9"/>
<line x1="329.7" y1="559.95" x2="332.1" y2="559.95" stroke="#231f20" stroke-width="0.9"/>
<line x1="329.7" y1="556.69" x2="332.1" y2="556.69" stroke="#231f20" stroke-width="0.9"/>
<line x1="329.7" y1="554.16" x2="332.1" y2="554.16" stroke="#231f20" stroke-width="0.9"/>
<line x1="329.7" y1="552.09" x2="332.1" y2="552.09" stroke="#231f20" stroke-width="0.9"/>
<line x1="329.7" y1="550.34" x2="332.1" y2="550.34" stroke="#231f20" stroke-width="0.9"/>
<line x1="329.7" y1="548.83" x2="332.1" y2="548.83" stroke="#231f20" stroke-width="0.9"/>
<line x1="329.7" y1="547.49" x2="332.1" y2="547.49" stroke="#231f20" stroke-width="0.9"/>
<line x1="327.7" y1="522.1" x2="332.1" y2="522.1" stroke="#231f20" stroke-width="1"/>
<line x1="329.7" y1="539.02" x2="332.1" y2="539.02" stroke="#231f20" stroke-width="0.9"/>
<line x1="329.7" y1="534.75" x2="332.1" y2="534.75" stroke="#231f20" stroke-width="0.9"/>
<line x1="329.7" y1="531.73" x2="332.1" y2="531.73" stroke="#231f20" stroke-width="0.9"/>
<line x1="329.7" y1="529.38" x2="332.1" y2="529.38" stroke="#231f20" stroke-width="0.9"/>
<line x1="329.7" y1="527.47" x2="332.1" y2="527.47" stroke="#231f20" stroke-width="0.9"/>
<line x1="329.7" y1="525.85" x2="332.1" y2="525.85" stroke="#231f20" stroke-width="0.9"/>
<line x1="329.7" y1="524.45" x2="332.1" y2="524.45" stroke="#231f20" stroke-width="0.9"/>
<line x1="329.7" y1="523.21" x2="332.1" y2="523.21" stroke="#231f20" stroke-width="0.9"/>
<line x1="329.7" y1="514.54" x2="332.1" y2="514.54" stroke="#231f20" stroke-width="0.9"/>
<line x1="332.9" y1="619.2" x2="332.9" y2="623.6" stroke="#231f20" stroke-width="1"/>
<line x1="336.9" y1="619.2" x2="336.9" y2="621.7" stroke="#231f20" stroke-width="1"/>
<line x1="340.9" y1="619.2" x2="340.9" y2="621.7" stroke="#231f20" stroke-width="1"/>
<line x1="344.9" y1="619.2" x2="344.9" y2="621.7" stroke="#231f20" stroke-width="1"/>
<line x1="348.9" y1="619.2" x2="348.9" y2="621.7" stroke="#231f20" stroke-width="1"/>
<line x1="352.9" y1="619.2" x2="352.9" y2="623.6" stroke="#231f20" stroke-width="1"/>
<line x1="356.9" y1="619.2" x2="356.9" y2="621.7" stroke="#231f20" stroke-width="1"/>
<line x1="360.9" y1="619.2" x2="360.9" y2="621.7" stroke="#231f20" stroke-width="1"/>
<line x1="364.9" y1="619.2" x2="364.9" y2="621.7" stroke="#231f20" stroke-width="1"/>
<line x1="368.9" y1="619.2" x2="368.9" y2="621.7" stroke="#231f20" stroke-width="1"/>
<line x1="372.9" y1="619.2" x2="372.9" y2="623.6" stroke="#231f20" stroke-width="1"/>
<line x1="376.9" y1="619.2" x2="376.9" y2="621.7" stroke="#231f20" stroke-width="1"/>
<line x1="380.9" y1="619.2" x2="380.9" y2="621.7" stroke="#231f20" stroke-width="1"/>
<line x1="384.9" y1="619.2" x2="384.9" y2="621.7" stroke="#231f20" stroke-width="1"/>
<line x1="388.9" y1="619.2" x2="388.9" y2="621.7" stroke="#231f20" stroke-width="1"/>
<line x1="392.9" y1="619.2" x2="392.9" y2="623.6" stroke="#231f20" stroke-width="1"/>
<line x1="396.9" y1="619.2" x2="396.9" y2="621.7" stroke="#231f20" stroke-width="1"/>
<line x1="400.9" y1="619.2" x2="400.9" y2="621.7" stroke="#231f20" stroke-width="1"/>
<line x1="404.9" y1="619.2" x2="404.9" y2="621.7" stroke="#231f20" stroke-width="1"/>
<line x1="408.9" y1="619.2" x2="408.9" y2="621.7" stroke="#231f20" stroke-width="1"/>
<line x1="412.9" y1="619.2" x2="412.9" y2="623.6" stroke="#231f20" stroke-width="1"/>
<line x1="416.9" y1="619.2" x2="416.9" y2="621.7" stroke="#231f20" stroke-width="1"/>
<line x1="420.9" y1="619.2" x2="420.9" y2="621.7" stroke="#231f20" stroke-width="1"/>
<line x1="424.9" y1="619.2" x2="424.9" y2="621.7" stroke="#231f20" stroke-width="1"/>
<line x1="428.9" y1="619.2" x2="428.9" y2="621.7" stroke="#231f20" stroke-width="1"/>
<line x1="432.9" y1="619.2" x2="432.9" y2="623.6" stroke="#231f20" stroke-width="1"/>
<line x1="436.9" y1="619.2" x2="436.9" y2="621.7" stroke="#231f20" stroke-width="1"/>
<rect x="332.1" y="513.3" width="106.2" height="105.9" fill="none" stroke="#231f20" stroke-width="1.4"/>
<line x1="360.4" y1="513.3" x2="360.4" y2="619.2" stroke="#3a3a3a" stroke-width="1.3"/>
<line x1="332.1" y1="577.5" x2="438.3" y2="577.5" stroke="#3a3a3a" stroke-width="1.3"/>
<rect x="232.41" y="545.06" width="1.5" height="1.5" fill="#2d2079"/>
<rect x="230.17" y="545.77" width="1.5" height="1.5" fill="#2d2079"/>
<rect x="228.97" y="547" width="1.5" height="1.5" fill="#2d2079"/>
<rect x="230.47" y="547.39" width="1.5" height="1.5" fill="#2d2079"/>
<rect x="230.99" y="548.05" width="1.5" height="1.5" fill="#2d2079"/>
<rect x="230.82" y="548.94" width="1.5" height="1.5" fill="#2d2079"/>
<rect x="229.86" y="549.46" width="1.5" height="1.5" fill="#2d2079"/>
<rect x="230.84" y="550.04" width="1.5" height="1.5" fill="#2d2079"/>
<rect x="229.98" y="550.64" width="1.5" height="1.5" fill="#2d2079"/>
<rect x="227.84" y="551.36" width="1.5" height="1.5" fill="#2d2079"/>
<rect x="231.89" y="552.65" width="1.5" height="1.5" fill="#2d2079"/>
<rect x="233.2" y="553.26" width="1.5" height="1.5" fill="#2d2079"/>
<rect x="230.05" y="553.68" width="1.5" height="1.5" fill="#2d2079"/>
<rect x="232.16" y="554.29" width="1.5" height="1.5" fill="#2d2079"/>
<rect x="229.22" y="554.9" width="1.5" height="1.5" fill="#2d2079"/>
<rect x="229.16" y="556.06" width="1.5" height="1.5" fill="#2d2079"/>
<rect x="231" y="556.54" width="1.5" height="1.5" fill="#2d2079"/>
<rect x="231.19" y="557.13" width="1.5" height="1.5" fill="#2d2079"/>
<rect x="230.12" y="557.98" width="1.5" height="1.5" fill="#2d2079"/>
<rect x="232.58" y="559.12" width="1.5" height="1.5" fill="#2d2079"/>
<rect x="232.54" y="559.3" width="1.5" height="1.5" fill="#2d2079"/>
<rect x="231.19" y="560.12" width="1.5" height="1.5" fill="#2d2079"/>
<rect x="227.84" y="560.88" width="1.5" height="1.5" fill="#2d2079"/>
<rect x="228.81" y="561.32" width="1.5" height="1.5" fill="#2d2079"/>
<rect x="230.32" y="562.66" width="1.5" height="1.5" fill="#2d2079"/>
<rect x="228.21" y="562.85" width="1.5" height="1.5" fill="#2d2079"/>
<rect x="232.27" y="563.45" width="1.5" height="1.5" fill="#2d2079"/>
<rect x="230.97" y="564.43" width="1.5" height="1.5" fill="#2d2079"/>
<rect x="227.97" y="564.88" width="1.5" height="1.5" fill="#2d2079"/>
<rect x="232.9" y="565.59" width="1.5" height="1.5" fill="#2d2079"/>
<rect x="231.26" y="566.46" width="1.5" height="1.5" fill="#2d2079"/>
<rect x="231.09" y="567.52" width="1.5" height="1.5" fill="#2d2079"/>
<rect x="229.37" y="567.89" width="1.5" height="1.5" fill="#2d2079"/>
<rect x="229.32" y="569.09" width="1.5" height="1.5" fill="#2d2079"/>
<rect x="229.39" y="569.64" width="1.5" height="1.5" fill="#2d2079"/>
<rect x="230.08" y="570.06" width="1.5" height="1.5" fill="#2d2079"/>
<rect x="230.22" y="571.09" width="1.5" height="1.5" fill="#2d2079"/>
<rect x="227.95" y="571.92" width="1.5" height="1.5" fill="#2d2079"/>
<rect x="227.69" y="571.99" width="1.5" height="1.5" fill="#2d2079"/>
<rect x="226.76" y="572.85" width="1.5" height="1.5" fill="#2d2079"/>
<rect x="230.63" y="574.08" width="1.5" height="1.5" fill="#2d2079"/>
<rect x="230.09" y="574.39" width="1.5" height="1.5" fill="#2d2079"/>
<rect x="231.53" y="575.18" width="1.5" height="1.5" fill="#2d2079"/>
<rect x="231.09" y="576.2" width="1.5" height="1.5" fill="#2d2079"/>
<rect x="231.74" y="576.78" width="1.5" height="1.5" fill="#2d2079"/>
<rect x="230.3" y="577.55" width="1.5" height="1.5" fill="#2d2079"/>
<rect x="228.75" y="577.91" width="1.5" height="1.5" fill="#2d2079"/>
<rect x="228.97" y="578.62" width="1.5" height="1.5" fill="#2d2079"/>
<rect x="231.43" y="579.16" width="1.5" height="1.5" fill="#2d2079"/>
<rect x="230.11" y="579.95" width="1.5" height="1.5" fill="#2d2079"/>
<rect x="229.35" y="580.57" width="1.5" height="1.5" fill="#2d2079"/>
<rect x="229.26" y="581.26" width="1.5" height="1.5" fill="#2d2079"/>
<rect x="229.81" y="582.65" width="1.5" height="1.5" fill="#2d2079"/>
<rect x="230.88" y="583.29" width="1.5" height="1.5" fill="#2d2079"/>
<rect x="230.04" y="583.43" width="1.5" height="1.5" fill="#2d2079"/>
<rect x="228.53" y="584.16" width="1.5" height="1.5" fill="#2d2079"/>
<rect x="230.12" y="585.12" width="1.5" height="1.5" fill="#2d2079"/>
<rect x="228.89" y="585.68" width="1.5" height="1.5" fill="#2d2079"/>
<rect x="230.79" y="586.71" width="1.5" height="1.5" fill="#2d2079"/>
<rect x="230.95" y="587.47" width="1.5" height="1.5" fill="#2d2079"/>
<rect x="228.89" y="587.74" width="1.5" height="1.5" fill="#2d2079"/>
<rect x="229.75" y="588.96" width="1.5" height="1.5" fill="#2d2079"/>
<rect x="231.34" y="589.34" width="1.5" height="1.5" fill="#2d2079"/>
<rect x="230.34" y="590.31" width="1.5" height="1.5" fill="#2d2079"/>
<rect x="230.82" y="590.67" width="1.5" height="1.5" fill="#2d2079"/>
<rect x="231.08" y="591.32" width="1.5" height="1.5" fill="#2d2079"/>
<rect x="229.23" y="592.16" width="1.5" height="1.5" fill="#2d2079"/>
<rect x="231.29" y="592.92" width="1.5" height="1.5" fill="#2d2079"/>
<rect x="230.04" y="593.51" width="1.5" height="1.5" fill="#2d2079"/>
<rect x="228.35" y="594.64" width="1.5" height="1.5" fill="#2d2079"/>
<rect x="227.58" y="594.85" width="1.5" height="1.5" fill="#2d2079"/>
<rect x="230.91" y="595.83" width="1.5" height="1.5" fill="#2d2079"/>
<rect x="228.36" y="596.85" width="1.5" height="1.5" fill="#2d2079"/>
<rect x="229.96" y="596.94" width="1.5" height="1.5" fill="#2d2079"/>
<rect x="230.59" y="597.76" width="1.5" height="1.5" fill="#2d2079"/>
<rect x="228.1" y="599.03" width="1.5" height="1.5" fill="#2d2079"/>
<rect x="228.95" y="599.32" width="1.5" height="1.5" fill="#2d2079"/>
<rect x="229.36" y="600.38" width="1.5" height="1.5" fill="#2d2079"/>
<rect x="230.34" y="601.03" width="1.5" height="1.5" fill="#2d2079"/>
<rect x="231.16" y="601.86" width="1.5" height="1.5" fill="#2d2079"/>
<rect x="228.7" y="543" width="1.5" height="1.5" fill="#2d2079"/>
<rect x="227.3" y="602.2" width="1.5" height="1.5" fill="#2d2079"/>
<rect x="231.2" y="601.7" width="1.5" height="1.5" fill="#2d2079"/>
<rect x="241.4" y="543.4" width="1.5" height="1.5" fill="#2d2079"/>
<rect x="248.1" y="543" width="1.5" height="1.5" fill="#2d2079"/>
<rect x="252.7" y="544.7" width="1.5" height="1.5" fill="#2d2079"/>
<rect x="236.4" y="550.7" width="1.5" height="1.5" fill="#2d2079"/>
<rect x="237.4" y="554.1" width="1.5" height="1.5" fill="#2d2079"/>
<rect x="236.1" y="560.1" width="1.5" height="1.5" fill="#2d2079"/>
<rect x="229.7" y="570.1" width="1.4" height="1.4" fill="#e0502a"/>
<rect x="230.7" y="588.7" width="1.4" height="1.4" fill="#e0502a"/>
<rect x="354.9" y="560.4" width="1.5" height="1.5" fill="#2d2079"/>
<rect x="358.1" y="559.9" width="1.5" height="1.5" fill="#2d2079"/>
<rect x="355.2" y="562.4" width="1.5" height="1.5" fill="#2d2079"/>
<rect x="356.9" y="564.4" width="1.5" height="1.5" fill="#2d2079"/>
<rect x="355.7" y="566.4" width="1.5" height="1.5" fill="#2d2079"/>
<rect x="355.2" y="571.4" width="1.5" height="1.5" fill="#2d2079"/>
<rect x="356.2" y="575.9" width="1.5" height="1.5" fill="#2d2079"/>
<rect x="357.8" y="582" width="1.5" height="1.5" fill="#2d2079"/>
<rect x="356.95" y="578.22" width="1.5" height="1.5" fill="#2d2079"/>
<rect x="355.14" y="578.53" width="1.5" height="1.5" fill="#2d2079"/>
<rect x="356.31" y="579.04" width="1.5" height="1.5" fill="#2d2079"/>
<rect x="353.93" y="579.59" width="1.5" height="1.5" fill="#2d2079"/>
<rect x="354.43" y="580.08" width="1.5" height="1.5" fill="#2d2079"/>
<rect x="354.65" y="580.5" width="1.5" height="1.5" fill="#2d2079"/>
<rect x="357.7" y="581.11" width="1.5" height="1.5" fill="#2d2079"/>
<rect x="356.47" y="581.69" width="1.5" height="1.5" fill="#2d2079"/>
<rect x="358.26" y="582.33" width="1.5" height="1.5" fill="#2d2079"/>
<rect x="356.91" y="582.6" width="1.5" height="1.5" fill="#2d2079"/>
<rect x="356.59" y="583.37" width="1.5" height="1.5" fill="#2d2079"/>
<rect x="356.45" y="583.93" width="1.5" height="1.5" fill="#2d2079"/>
<rect x="356.19" y="584.48" width="1.5" height="1.5" fill="#2d2079"/>
<rect x="355.43" y="584.85" width="1.5" height="1.5" fill="#2d2079"/>
<rect x="356.96" y="585.65" width="1.5" height="1.5" fill="#2d2079"/>
<rect x="354.41" y="585.83" width="1.5" height="1.5" fill="#2d2079"/>
<rect x="355.13" y="586.41" width="1.5" height="1.5" fill="#2d2079"/>
<rect x="357.13" y="587.16" width="1.5" height="1.5" fill="#2d2079"/>
<rect x="355.67" y="587.33" width="1.5" height="1.5" fill="#2d2079"/>
<rect x="355.75" y="588.12" width="1.5" height="1.5" fill="#2d2079"/>
<rect x="355.86" y="588.73" width="1.5" height="1.5" fill="#2d2079"/>
<rect x="356.36" y="589" width="1.5" height="1.5" fill="#2d2079"/>
<rect x="354.32" y="589.76" width="1.5" height="1.5" fill="#2d2079"/>
<rect x="355.84" y="590.06" width="1.5" height="1.5" fill="#2d2079"/>
<rect x="355.92" y="590.62" width="1.5" height="1.5" fill="#2d2079"/>
<rect x="356.25" y="591.19" width="1.5" height="1.5" fill="#2d2079"/>
<rect x="355.35" y="591.7" width="1.5" height="1.5" fill="#2d2079"/>
<rect x="354.86" y="592.08" width="1.5" height="1.5" fill="#2d2079"/>
<rect x="355.68" y="592.56" width="1.5" height="1.5" fill="#2d2079"/>
<rect x="356.34" y="593.2" width="1.5" height="1.5" fill="#2d2079"/>
<rect x="355.38" y="593.7" width="1.5" height="1.5" fill="#2d2079"/>
<rect x="356.67" y="594.38" width="1.5" height="1.5" fill="#2d2079"/>
<rect x="355.49" y="594.55" width="1.5" height="1.5" fill="#2d2079"/>
<rect x="357.4" y="595.49" width="1.5" height="1.5" fill="#2d2079"/>
<rect x="355.44" y="595.55" width="1.5" height="1.5" fill="#2d2079"/>
<rect x="353.22" y="596.52" width="1.5" height="1.5" fill="#2d2079"/>
<rect x="357.8" y="596.88" width="1.5" height="1.5" fill="#2d2079"/>
<rect x="357.11" y="597.5" width="1.5" height="1.5" fill="#2d2079"/>
<rect x="357.93" y="597.71" width="1.5" height="1.5" fill="#2d2079"/>
<rect x="357.3" y="598.32" width="1.5" height="1.5" fill="#2d2079"/>
<rect x="353.38" y="598.72" width="1.5" height="1.5" fill="#2d2079"/>
<rect x="354.24" y="599.26" width="1.5" height="1.5" fill="#2d2079"/>
<rect x="356.77" y="599.86" width="1.5" height="1.5" fill="#2d2079"/>
<rect x="355.74" y="600.25" width="1.5" height="1.5" fill="#2d2079"/>
<rect x="358.11" y="601.16" width="1.5" height="1.5" fill="#2d2079"/>
<rect x="353.37" y="601.24" width="1.5" height="1.5" fill="#2d2079"/>
<rect x="354.74" y="601.76" width="1.5" height="1.5" fill="#2d2079"/>
<rect x="357.2" y="602.69" width="1.5" height="1.5" fill="#2d2079"/>
<rect x="357.07" y="603.06" width="1.5" height="1.5" fill="#2d2079"/>
<rect x="355.16" y="603.62" width="1.5" height="1.5" fill="#2d2079"/>
<rect x="357.17" y="604.11" width="1.5" height="1.5" fill="#2d2079"/>
<rect x="354.82" y="604.55" width="1.5" height="1.5" fill="#2d2079"/>
<rect x="354.33" y="605.07" width="1.5" height="1.5" fill="#2d2079"/>
<rect x="354.42" y="605.38" width="1.5" height="1.5" fill="#2d2079"/>
<rect x="354.52" y="606" width="1.5" height="1.5" fill="#2d2079"/>
<rect x="378.5" y="550.9" width="1.5" height="1.5" fill="#2d2079"/>
<rect x="382.3" y="554.4" width="1.5" height="1.5" fill="#2d2079"/>
<rect x="378" y="565.4" width="1.5" height="1.5" fill="#2d2079"/>
<rect x="355.4" y="593.4" width="1.3" height="1.3" fill="#e0502a"/>
<rect x="356.4" y="597.4" width="1.3" height="1.3" fill="#e0502a"/>
<text transform="translate(222.23,506.1) scale(1.038,1)" font-size="11" fill="#231f20" color="#231f20">mito-Dendra2</text>
<text transform="translate(291.32,501.9) scale(1.031,1)" font-size="8.4" fill="#231f20" color="#231f20">lo</text>
<text transform="translate(346.83,506.1) scale(1.036,1)" font-size="11" fill="#231f20" color="#231f20">mito-Dendra2</text>
<text transform="translate(416.27,501.6) scale(1.147,1)" font-size="7.9" fill="#231f20" color="#231f20">hi</text>
<text transform="translate(210.25,522.8) scale(0.864,1)" font-size="10.5" fill="#68a85a" color="#68a85a">G1</text>
<text transform="translate(274.43,523.8) scale(0.998,1)" font-size="10.5" fill="#68a85a" color="#68a85a">S/G2/M</text>
<text transform="translate(210.31,616.5) scale(0.941,1)" font-size="10.5" fill="#68a85a" color="#68a85a">G0</text>
<text transform="translate(194.75,544.95) rotate(-90) scale(0.926,1)" font-size="13.8" fill="#231f20" color="#231f20">Ki-67</text>
<path d="M190.8,556.6 V636.3 H363.4" fill="none" stroke="#231f20" stroke-width="1.2"/>
<line x1="190.8" y1="556.7" x2="190.8" y2="556.1" stroke="#231f20" stroke-width="1.2"/>
<path d="M190.8,549.4 L194.6,558.1 L190.8,556.6 L187,558.1 Z" fill="#231f20"/>
<line x1="363.3" y1="636.3" x2="363.5" y2="636.3" stroke="#231f20" stroke-width="1.2"/>
<path d="M369.9,636.3 L361.5,639.9 L363,636.3 L361.5,632.7 Z" fill="#231f20"/>
<text transform="translate(374.93,640) scale(0.937,1)" font-size="13.8" fill="#231f20" color="#231f20">Hoechst 33342</text>
<text transform="translate(42.97,719.02) scale(1.000,1)" font-size="11.4" fill="#231f20" color="#231f20">80</text>
<text transform="translate(42.97,743.42) scale(1.000,1)" font-size="11.4" fill="#231f20" color="#231f20">60</text>
<text transform="translate(42.97,767.82) scale(1.000,1)" font-size="11.4" fill="#231f20" color="#231f20">40</text>
<text transform="translate(42.97,792.22) scale(1.000,1)" font-size="11.4" fill="#231f20" color="#231f20">20</text>
<text transform="translate(49.3,816.62) scale(1.000,1)" font-size="11.4" fill="#231f20" color="#231f20">0</text>
<rect x="69.7" y="764.2" width="20.8" height="48.5" fill="#a23545" stroke="#921d31" stroke-width="0.8"/>
<rect x="101.1" y="707.9" width="22.1" height="104.8" fill="#a23545" stroke="#921d31" stroke-width="0.8"/>
<line x1="80.1" y1="758.5" x2="80.1" y2="763.8" stroke="#231f20" stroke-width="1.3"/>
<line x1="74.7" y1="758.5" x2="85.5" y2="758.5" stroke="#231f20" stroke-width="1.3"/>
<line x1="112.15" y1="705" x2="112.15" y2="707.5" stroke="#231f20" stroke-width="1.3"/>
<line x1="106.75" y1="705" x2="117.55" y2="705" stroke="#231f20" stroke-width="1.3"/>
<path d="M80.5,699.9 V693.6 H111.7 V699.9" fill="none" stroke="#231f20" stroke-width="1.3"/>
<path d="M89.72,687.1 L89.72,690.7 M88.17,688 L91.28,689.8 M88.17,689.8 L91.28,688 " stroke="#4a4a4a" stroke-width="0.9" fill="none"/>
<path d="M93.97,687.1 L93.97,690.7 M92.42,688 L95.53,689.8 M92.42,689.8 L95.53,688 " stroke="#4a4a4a" stroke-width="0.9" fill="none"/>
<path d="M98.22,687.1 L98.22,690.7 M96.67,688 L99.78,689.8 M96.67,689.8 L99.78,688 " stroke="#4a4a4a" stroke-width="0.9" fill="none"/>
<path d="M102.47,687.1 L102.47,690.7 M100.92,688 L104.03,689.8 M100.92,689.8 L104.03,688 " stroke="#4a4a4a" stroke-width="0.9" fill="none"/>
<text transform="translate(75.27,826.8) scale(1.055,1)" font-size="11.6" fill="#231f20" color="#231f20">lo</text>
<text transform="translate(107.22,826.8) scale(1.078,1)" font-size="11.6" fill="#231f20" color="#231f20">hi</text>
<line x1="64.2" y1="834.1" x2="128.6" y2="834.1" stroke="#231f20" stroke-width="1.35"/>
<text transform="translate(54.87,848.9) scale(1.009,1)" font-size="13.6" fill="#231f20" color="#231f20">mito-Dendra2</text>
<text transform="translate(33.2,799.04) rotate(-90) scale(0.921,1)" font-size="13.6" fill="#231f20" color="#231f20">% of G0 phase</text>
<text transform="translate(192.87,706.42) scale(1.000,1)" font-size="11.4" fill="#231f20" color="#231f20">80</text>
<text transform="translate(192.87,733.97) scale(1.000,1)" font-size="11.4" fill="#231f20" color="#231f20">60</text>
<text transform="translate(192.87,761.52) scale(1.000,1)" font-size="11.4" fill="#231f20" color="#231f20">40</text>
<text transform="translate(192.87,789.07) scale(1.000,1)" font-size="11.4" fill="#231f20" color="#231f20">20</text>
<text transform="translate(199.2,816.62) scale(1.000,1)" font-size="11.4" fill="#231f20" color="#231f20">0</text>
<line x1="213.7" y1="812.7" x2="213.7" y2="817.2" stroke="#231f20" stroke-width="1.2"/>
<text transform="translate(210.43,831.8) scale(1.000,1)" font-size="11" fill="#231f20" color="#231f20">0</text>
<line x1="238" y1="812.7" x2="238" y2="817.2" stroke="#231f20" stroke-width="1.2"/>
<text transform="translate(234.6,831.8) scale(1.000,1)" font-size="11" fill="#231f20" color="#231f20">1</text>
<line x1="262.5" y1="812.7" x2="262.5" y2="817.2" stroke="#231f20" stroke-width="1.2"/>
<text transform="translate(259.25,831.8) scale(1.000,1)" font-size="11" fill="#231f20" color="#231f20">2</text>
<line x1="287" y1="812.7" x2="287" y2="817.2" stroke="#231f20" stroke-width="1.2"/>
<text transform="translate(283.77,831.8) scale(1.000,1)" font-size="11" fill="#231f20" color="#231f20">3</text>
<line x1="311.3" y1="812.7" x2="311.3" y2="817.2" stroke="#231f20" stroke-width="1.2"/>
<text transform="translate(308.08,831.8) scale(1.000,1)" font-size="11" fill="#231f20" color="#231f20">4</text>
<text transform="translate(216.63,848.9) scale(0.938,1)" font-size="13.8" fill="#231f20" color="#231f20">Months after BMT</text>
<text transform="translate(230.84,678.7) scale(0.972,1)" font-size="11.6" fill="#ad3348" color="#ad3348">mito-Dendra2</text>
<text transform="translate(298.68,674.4) scale(1.258,1)" font-size="8.2" fill="#ad3348" color="#ad3348">hi</text>
<text transform="translate(230.84,691.2) scale(0.972,1)" font-size="11.6" fill="#4d6a95" color="#4d6a95">mito-Dendra2</text>
<text transform="translate(298.7,686.5) scale(1.198,1)" font-size="8.6" fill="#4d6a95" color="#4d6a95">lo</text>
<polyline points="238,780.5 262.4,770.6 287,763.2 311.3,761.4" fill="none" stroke="#4d6a95" stroke-width="1.5" stroke-linejoin="round"/>
<line x1="238" y1="775.8" x2="238" y2="785.7" stroke="#4d6a95" stroke-width="1.3"/>
<line x1="235.9" y1="775.8" x2="240.1" y2="775.8" stroke="#4d6a95" stroke-width="1.3"/>
<line x1="235.9" y1="785.7" x2="240.1" y2="785.7" stroke="#4d6a95" stroke-width="1.3"/>
<line x1="262.4" y1="763.2" x2="262.4" y2="777.9" stroke="#4d6a95" stroke-width="1.3"/>
<line x1="260.3" y1="763.2" x2="264.5" y2="763.2" stroke="#4d6a95" stroke-width="1.3"/>
<line x1="260.3" y1="777.9" x2="264.5" y2="777.9" stroke="#4d6a95" stroke-width="1.3"/>
<line x1="287" y1="753.3" x2="287" y2="773.5" stroke="#4d6a95" stroke-width="1.3"/>
<line x1="284.9" y1="753.3" x2="289.1" y2="753.3" stroke="#4d6a95" stroke-width="1.3"/>
<line x1="284.9" y1="773.5" x2="289.1" y2="773.5" stroke="#4d6a95" stroke-width="1.3"/>
<line x1="311.3" y1="749.3" x2="311.3" y2="773.5" stroke="#4d6a95" stroke-width="1.3"/>
<line x1="309.2" y1="749.3" x2="313.4" y2="749.3" stroke="#4d6a95" stroke-width="1.3"/>
<line x1="309.2" y1="773.5" x2="313.4" y2="773.5" stroke="#4d6a95" stroke-width="1.3"/>
<polyline points="238,756.4 262.4,742.4 287,721.5 311.3,713.7" fill="none" stroke="#a8283e" stroke-width="1.5" stroke-linejoin="round"/>
<line x1="238" y1="750" x2="238" y2="763" stroke="#a8283e" stroke-width="1.3"/>
<line x1="235.9" y1="750" x2="240.1" y2="750" stroke="#a8283e" stroke-width="1.3"/>
<line x1="235.9" y1="763" x2="240.1" y2="763" stroke="#a8283e" stroke-width="1.3"/>
<line x1="262.4" y1="735.5" x2="262.4" y2="750" stroke="#a8283e" stroke-width="1.3"/>
<line x1="260.3" y1="735.5" x2="264.5" y2="735.5" stroke="#a8283e" stroke-width="1.3"/>
<line x1="260.3" y1="750" x2="264.5" y2="750" stroke="#a8283e" stroke-width="1.3"/>
<line x1="287" y1="717" x2="287" y2="725.7" stroke="#a8283e" stroke-width="1.3"/>
<line x1="284.9" y1="717" x2="289.1" y2="717" stroke="#a8283e" stroke-width="1.3"/>
<line x1="284.9" y1="725.7" x2="289.1" y2="725.7" stroke="#a8283e" stroke-width="1.3"/>
<line x1="311.3" y1="710.6" x2="311.3" y2="716.5" stroke="#a8283e" stroke-width="1.3"/>
<line x1="309.2" y1="710.6" x2="313.4" y2="710.6" stroke="#a8283e" stroke-width="1.3"/>
<line x1="309.2" y1="716.5" x2="313.4" y2="716.5" stroke="#a8283e" stroke-width="1.3"/>
<path d="M238.3,739.55 L238.3,743.25 M236.7,740.48 L239.9,742.32 M236.7,742.32 L239.9,740.48 " stroke="#4a4a4a" stroke-width="0.9" fill="none"/>
<path d="M262.2,725.15 L262.2,728.85 M260.6,726.08 L263.8,727.92 M260.6,727.92 L263.8,726.08 " stroke="#4a4a4a" stroke-width="0.9" fill="none"/>
<path d="M285.88,706.65 L285.88,710.35 M284.27,707.58 L287.48,709.42 M284.27,709.42 L287.48,707.58 " stroke="#4a4a4a" stroke-width="0.9" fill="none"/>
<path d="M290.12,706.65 L290.12,710.35 M288.52,707.58 L291.73,709.42 M288.52,709.42 L291.73,707.58 " stroke="#4a4a4a" stroke-width="0.9" fill="none"/>
<path d="M311.3,699.15 L311.3,702.85 M309.7,700.08 L312.9,701.92 M309.7,701.92 L312.9,700.08 " stroke="#4a4a4a" stroke-width="0.9" fill="none"/>
<text transform="translate(183,793.74) rotate(-90) scale(0.969,1)" font-size="13" fill="#231f20" color="#231f20">% donor (PB)</text>
<text transform="translate(379.02,706.22) scale(1.000,1)" font-size="11.4" fill="#231f20" color="#231f20">100</text>
<text transform="translate(385.37,728.36) scale(1.000,1)" font-size="11.4" fill="#231f20" color="#231f20">80</text>
<text transform="translate(385.37,750.5) scale(1.000,1)" font-size="11.4" fill="#231f20" color="#231f20">60</text>
<text transform="translate(385.37,772.64) scale(1.000,1)" font-size="11.4" fill="#231f20" color="#231f20">40</text>
<text transform="translate(385.37,794.78) scale(1.000,1)" font-size="11.4" fill="#231f20" color="#231f20">20</text>
<text transform="translate(391.7,816.92) scale(1.000,1)" font-size="11.4" fill="#231f20" color="#231f20">0</text>
<rect x="412.4" y="743.9" width="21.4" height="68.8" fill="#a23545" stroke="#921d31" stroke-width="0.8"/>
<rect x="444.2" y="705.8" width="21.7" height="106.9" fill="#a23545" stroke="#921d31" stroke-width="0.8"/>
<line x1="423.1" y1="730.7" x2="423.1" y2="743.5" stroke="#231f20" stroke-width="1.3"/>
<line x1="417.7" y1="730.7" x2="428.5" y2="730.7" stroke="#231f20" stroke-width="1.3"/>
<line x1="455.1" y1="705.1" x2="455.1" y2="705.8" stroke="#231f20" stroke-width="1.3"/>
<line x1="450.1" y1="705.1" x2="460.1" y2="705.1" stroke="#231f20" stroke-width="1.3"/>
<path d="M423.4,699.2 V692.3 H455.2 V699.2" fill="none" stroke="#231f20" stroke-width="1.3"/>
<path d="M440.2,686.6 L440.2,690.6 M438.47,687.6 L441.93,689.6 M438.47,689.6 L441.93,687.6 " stroke="#4a4a4a" stroke-width="0.9" fill="none"/>
<text transform="translate(418.39,827.2) scale(1.029,1)" font-size="11.6" fill="#231f20" color="#231f20">lo</text>
<text transform="translate(449.5,827.2) scale(1.105,1)" font-size="11.6" fill="#231f20" color="#231f20">hi</text>
<line x1="406.8" y1="834.1" x2="470.8" y2="834.1" stroke="#231f20" stroke-width="1.35"/>
<text transform="translate(397.27,849.6) scale(1.015,1)" font-size="13.6" fill="#231f20" color="#231f20">mito-Dendra2</text>
<text transform="translate(369.7,801.24) rotate(-90) scale(0.931,1)" font-size="13.4" fill="#231f20" color="#231f20">% donor (HSCs)</text>
<line x1="64.3" y1="70.8" x2="64.3" y2="185.65" stroke="#231f20" stroke-width="1.3"/>
<line x1="59.9" y1="75.1" x2="64.3" y2="75.1" stroke="#231f20" stroke-width="1.2"/>
<line x1="59.9" y1="97.05" x2="64.3" y2="97.05" stroke="#231f20" stroke-width="1.2"/>
<line x1="59.9" y1="119" x2="64.3" y2="119" stroke="#231f20" stroke-width="1.2"/>
<line x1="59.9" y1="140.95" x2="64.3" y2="140.95" stroke="#231f20" stroke-width="1.2"/>
<line x1="59.9" y1="162.9" x2="64.3" y2="162.9" stroke="#231f20" stroke-width="1.2"/>
<line x1="59.9" y1="184.85" x2="64.3" y2="184.85" stroke="#231f20" stroke-width="1.2"/>
<line x1="64.4" y1="185" x2="128.7" y2="185" stroke="#231f20" stroke-width="1.3"/>
<line x1="188.5" y1="71" x2="188.5" y2="185.65" stroke="#231f20" stroke-width="1.3"/>
<line x1="184.1" y1="75" x2="188.5" y2="75" stroke="#231f20" stroke-width="1.2"/>
<line x1="184.1" y1="102.5" x2="188.5" y2="102.5" stroke="#231f20" stroke-width="1.2"/>
<line x1="184.1" y1="130" x2="188.5" y2="130" stroke="#231f20" stroke-width="1.2"/>
<line x1="184.1" y1="157.5" x2="188.5" y2="157.5" stroke="#231f20" stroke-width="1.2"/>
<line x1="184.1" y1="185" x2="188.5" y2="185" stroke="#231f20" stroke-width="1.2"/>
<line x1="188.5" y1="185" x2="252.7" y2="185" stroke="#231f20" stroke-width="1.3"/>
<line x1="64.5" y1="292.4" x2="64.5" y2="407.05" stroke="#231f20" stroke-width="1.3"/>
<line x1="60.1" y1="296.4" x2="64.5" y2="296.4" stroke="#231f20" stroke-width="1.2"/>
<line x1="60.1" y1="318.4" x2="64.5" y2="318.4" stroke="#231f20" stroke-width="1.2"/>
<line x1="60.1" y1="340.4" x2="64.5" y2="340.4" stroke="#231f20" stroke-width="1.2"/>
<line x1="60.1" y1="362.4" x2="64.5" y2="362.4" stroke="#231f20" stroke-width="1.2"/>
<line x1="60.1" y1="384.4" x2="64.5" y2="384.4" stroke="#231f20" stroke-width="1.2"/>
<line x1="60.1" y1="406.4" x2="64.5" y2="406.4" stroke="#231f20" stroke-width="1.2"/>
<line x1="64.5" y1="406.4" x2="161" y2="406.4" stroke="#231f20" stroke-width="1.3"/>
<line x1="380.2" y1="293.1" x2="380.2" y2="407.65" stroke="#231f20" stroke-width="1.3"/>
<line x1="375.8" y1="296.3" x2="380.2" y2="296.3" stroke="#231f20" stroke-width="1.2"/>
<line x1="375.8" y1="310.12" x2="380.2" y2="310.12" stroke="#231f20" stroke-width="1.2"/>
<line x1="375.8" y1="323.95" x2="380.2" y2="323.95" stroke="#231f20" stroke-width="1.2"/>
<line x1="375.8" y1="337.77" x2="380.2" y2="337.77" stroke="#231f20" stroke-width="1.2"/>
<line x1="375.8" y1="351.6" x2="380.2" y2="351.6" stroke="#231f20" stroke-width="1.2"/>
<line x1="375.8" y1="365.43" x2="380.2" y2="365.43" stroke="#231f20" stroke-width="1.2"/>
<line x1="375.8" y1="379.25" x2="380.2" y2="379.25" stroke="#231f20" stroke-width="1.2"/>
<line x1="375.8" y1="393.07" x2="380.2" y2="393.07" stroke="#231f20" stroke-width="1.2"/>
<line x1="375.8" y1="406.9" x2="380.2" y2="406.9" stroke="#231f20" stroke-width="1.2"/>
<line x1="380.2" y1="407" x2="444.5" y2="407" stroke="#231f20" stroke-width="1.3"/>
<line x1="64" y1="702.3" x2="64" y2="813.35" stroke="#231f20" stroke-width="1.3"/>
<line x1="59.6" y1="715.1" x2="64" y2="715.1" stroke="#231f20" stroke-width="1.2"/>
<line x1="59.6" y1="739.5" x2="64" y2="739.5" stroke="#231f20" stroke-width="1.2"/>
<line x1="59.6" y1="763.9" x2="64" y2="763.9" stroke="#231f20" stroke-width="1.2"/>
<line x1="59.6" y1="788.3" x2="64" y2="788.3" stroke="#231f20" stroke-width="1.2"/>
<line x1="59.6" y1="812.7" x2="64" y2="812.7" stroke="#231f20" stroke-width="1.2"/>
<line x1="64" y1="812.7" x2="128.9" y2="812.7" stroke="#231f20" stroke-width="1.3"/>
<line x1="213.7" y1="698.4" x2="213.7" y2="813.35" stroke="#231f20" stroke-width="1.3"/>
<line x1="209.3" y1="702.5" x2="213.7" y2="702.5" stroke="#231f20" stroke-width="1.2"/>
<line x1="209.3" y1="730.05" x2="213.7" y2="730.05" stroke="#231f20" stroke-width="1.2"/>
<line x1="209.3" y1="757.6" x2="213.7" y2="757.6" stroke="#231f20" stroke-width="1.2"/>
<line x1="209.3" y1="785.15" x2="213.7" y2="785.15" stroke="#231f20" stroke-width="1.2"/>
<line x1="209.3" y1="812.7" x2="213.7" y2="812.7" stroke="#231f20" stroke-width="1.2"/>
<line x1="213.7" y1="812.7" x2="324.5" y2="812.7" stroke="#231f20" stroke-width="1.3"/>
<line x1="407.1" y1="698.3" x2="407.1" y2="813.35" stroke="#231f20" stroke-width="1.3"/>
<line x1="402.7" y1="702.3" x2="407.1" y2="702.3" stroke="#231f20" stroke-width="1.2"/>
<line x1="402.7" y1="724.44" x2="407.1" y2="724.44" stroke="#231f20" stroke-width="1.2"/>
<line x1="402.7" y1="746.58" x2="407.1" y2="746.58" stroke="#231f20" stroke-width="1.2"/>
<line x1="402.7" y1="768.72" x2="407.1" y2="768.72" stroke="#231f20" stroke-width="1.2"/>
<line x1="402.7" y1="790.86" x2="407.1" y2="790.86" stroke="#231f20" stroke-width="1.2"/>
<line x1="402.7" y1="813" x2="407.1" y2="813" stroke="#231f20" stroke-width="1.2"/>
<line x1="407.1" y1="812.7" x2="470.8" y2="812.7" stroke="#231f20" stroke-width="1.3"/>
<line x1="0.5" y1="0" x2="0.5" y2="863" stroke="#888" stroke-width="1"/>
<line x1="1.5" y1="0" x2="1.5" y2="862" stroke="#1a1a1a" stroke-width="1"/>
<line x1="0" y1="0.5" x2="520" y2="0.5" stroke="#111" stroke-width="1"/>
<line x1="1" y1="1.5" x2="518" y2="1.5" stroke="#666" stroke-width="1"/>
<line x1="519" y1="0" x2="519" y2="863" stroke="#111" stroke-width="2"/>
<line x1="0" y1="861.5" x2="520" y2="861.5" stroke="#1a1a1a" stroke-width="1"/>
<line x1="0" y1="862.5" x2="520" y2="862.5" stroke="#888" stroke-width="1"/>
</svg>
</body></html>
